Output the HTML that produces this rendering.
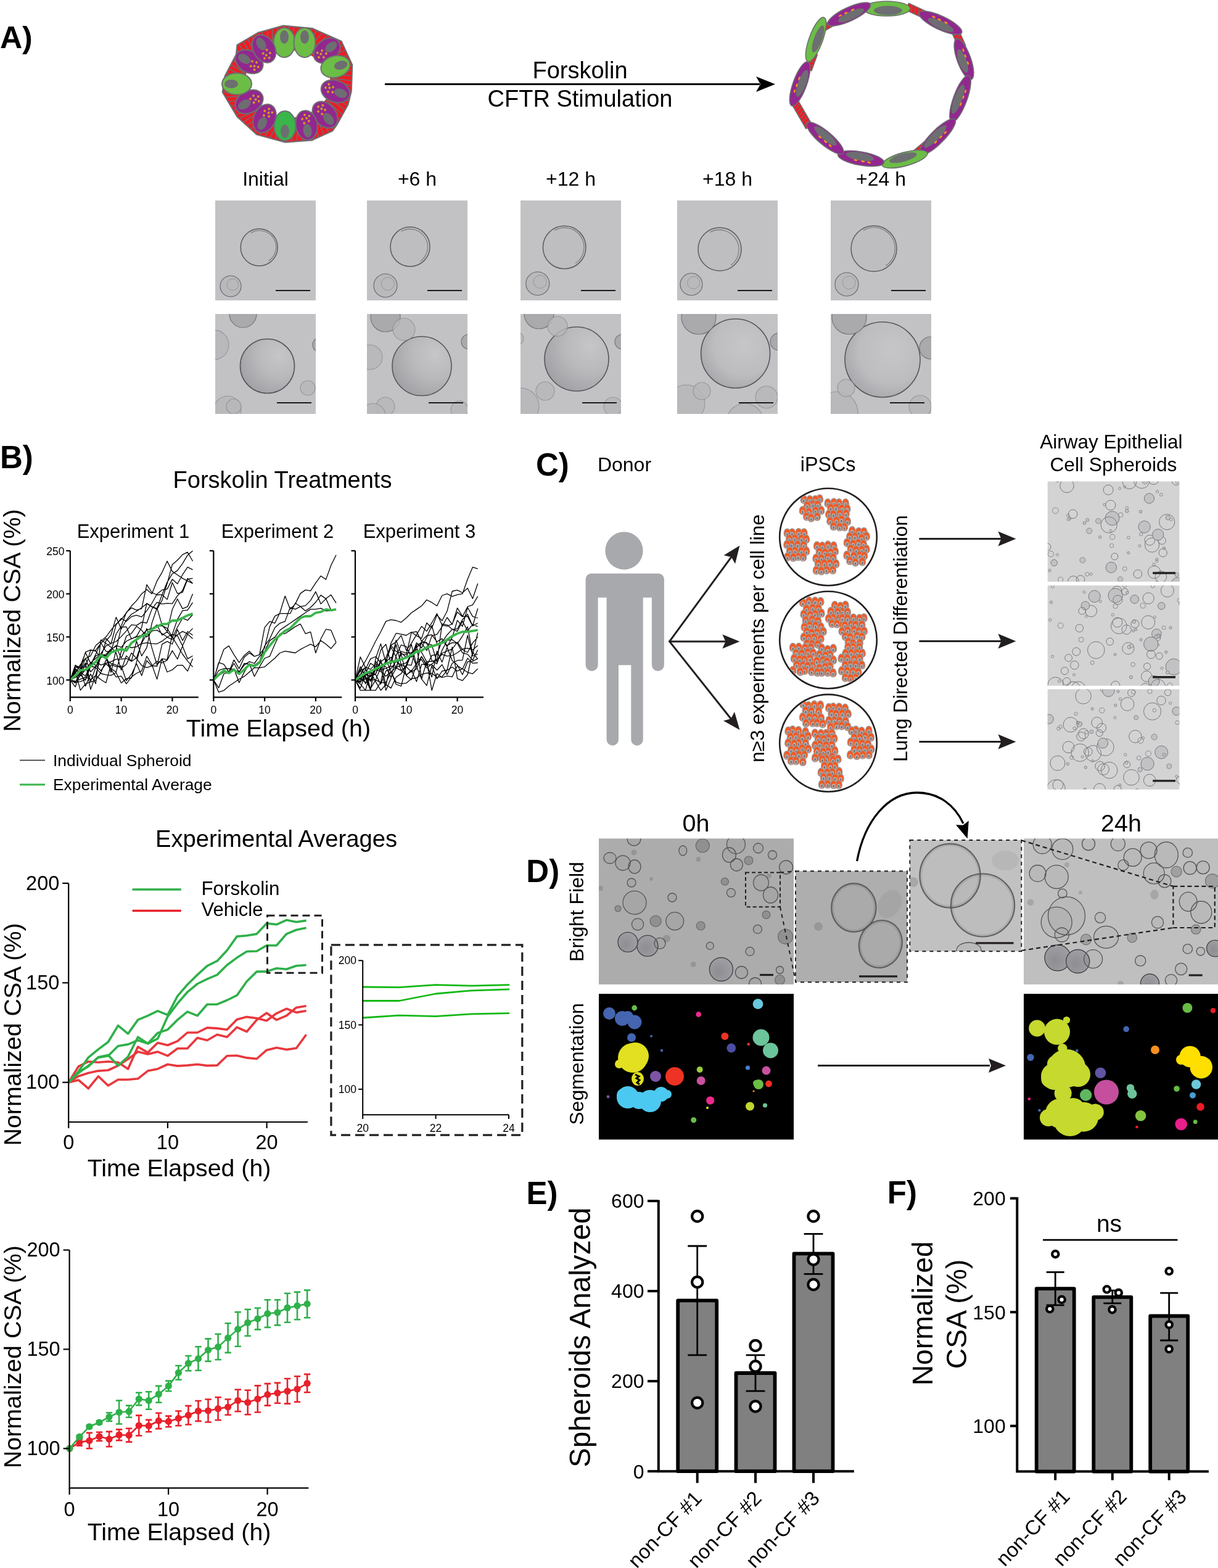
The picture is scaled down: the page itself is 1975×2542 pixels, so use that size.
<!DOCTYPE html>
<html><head><meta charset="utf-8"><title>Figure</title>
<style>html,body{margin:0;padding:0;background:#fff;} svg{display:block;} text{font-family:'Liberation Sans',Arial,sans-serif;}</style>
</head><body>
<svg width="1975" height="2542" viewBox="0 0 1975 2542">
<rect width="1975" height="2542" fill="#fff"/>
<defs><radialGradient id="gbig" cx="0.62" cy="0.38" r="0.78"><stop offset="0" stop-color="#c6c6c9"/><stop offset="0.55" stop-color="#bdbdc0"/><stop offset="0.85" stop-color="#a9a9ad"/><stop offset="1" stop-color="#9a9a9e"/></radialGradient><radialGradient id="gbig2" cx="0.72" cy="0.3" r="1.0"><stop offset="0" stop-color="#c6c6c9"/><stop offset="0.4" stop-color="#b9b9bc"/><stop offset="0.75" stop-color="#a4a4a8"/><stop offset="1" stop-color="#96969a"/></radialGradient><radialGradient id="gdark" cx="0.4" cy="0.6" r="0.7"><stop offset="0" stop-color="#8e8e92"/><stop offset="1" stop-color="#a2a2a6"/></radialGradient></defs><text x="0" y="77.5" font-size="50" text-anchor="start" font-weight="bold" fill="#000" >A)</text><text x="430.5" y="300.5" font-size="32" text-anchor="middle" fill="#000" >Initial</text><text x="676.5" y="300.5" font-size="32" text-anchor="middle" fill="#000" >+6 h</text><text x="925.5" y="300.5" font-size="32" text-anchor="middle" fill="#000" >+12 h</text><text x="1179.5" y="300.5" font-size="32" text-anchor="middle" fill="#000" >+18 h</text><text x="1428.5" y="300.5" font-size="32" text-anchor="middle" fill="#000" >+24 h</text><clipPath id="ca0"><rect x="349" y="325" width="163" height="162"/></clipPath><rect x="349" y="325" width="163" height="162" fill="#c2c2c5"/><g clip-path="url(#ca0)"><circle cx="420.2" cy="401" r="30" fill="#bebec1" stroke="#4a4a4e" stroke-width="1.5" stroke-opacity="0.85"/><path d="M406.8,377.8 A26.8,26.8 0 0 1 435.6,423" fill="none" stroke="#55555a" stroke-width="1.1" stroke-opacity="0.7"/><circle cx="374" cy="464" r="17" fill="#b9b9bc" stroke="#66666a" stroke-width="1.1"/><circle cx="377.4" cy="461.4" r="9.4" fill="none" stroke="#7a7a7e" stroke-width="0.9" stroke-opacity="0.6"/></g><line x1="447" y1="471" x2="503" y2="471" stroke="#1a1a1a" stroke-width="2.2" /><clipPath id="cb0"><rect x="349" y="509" width="163" height="162"/></clipPath><rect x="349" y="509" width="163" height="162" fill="#c2c2c5"/><g clip-path="url(#cb0)"><circle cx="433.5" cy="593.5" r="44" fill="url(#gbig2)" stroke="#56565a" stroke-width="1.6"/><circle cx="394" cy="509" r="22" fill="#aaaaad" stroke="#78787c" stroke-width="1.2"/><circle cx="347" cy="559" r="24" fill="#b8b8bb" stroke="#8a8a8e" stroke-width="1.1" opacity="0.8"/><circle cx="519" cy="559" r="12" fill="#aaaaad" stroke="#78787c" stroke-width="1.2"/><circle cx="369" cy="664" r="22" fill="#b8b8bb" stroke="#8a8a8e" stroke-width="1.1" opacity="0.8"/><circle cx="379" cy="659" r="12" fill="#b8b8bb" stroke="#8a8a8e" stroke-width="1.1" opacity="0.8"/><circle cx="499" cy="629" r="12" fill="#b8b8bb" stroke="#8a8a8e" stroke-width="1.1" opacity="0.8"/></g><line x1="449" y1="653" x2="505" y2="653" stroke="#1a1a1a" stroke-width="2.2" /><clipPath id="ca1"><rect x="595" y="325" width="163" height="162"/></clipPath><rect x="595" y="325" width="163" height="162" fill="#c2c2c5"/><g clip-path="url(#ca1)"><circle cx="665" cy="400" r="32" fill="#bebec1" stroke="#4a4a4e" stroke-width="1.5" stroke-opacity="0.85"/><path d="M650.6,375.1 A28.8,28.8 0 0 1 681.5,423.6" fill="none" stroke="#55555a" stroke-width="1.1" stroke-opacity="0.7"/><circle cx="625" cy="463" r="19" fill="#b9b9bc" stroke="#66666a" stroke-width="1.1"/><circle cx="628.8" cy="460.1" r="10.5" fill="none" stroke="#7a7a7e" stroke-width="0.9" stroke-opacity="0.6"/></g><line x1="693" y1="471" x2="749" y2="471" stroke="#1a1a1a" stroke-width="2.2" /><clipPath id="cb1"><rect x="595" y="509" width="163" height="162"/></clipPath><rect x="595" y="509" width="163" height="162" fill="#c2c2c5"/><g clip-path="url(#cb1)"><circle cx="684" cy="593.5" r="48" fill="url(#gbig2)" stroke="#56565a" stroke-width="1.6"/><circle cx="625" cy="514" r="24" fill="#aaaaad" stroke="#78787c" stroke-width="1.2"/><circle cx="655" cy="534" r="18" fill="#b8b8bb" stroke="#8a8a8e" stroke-width="1.1" opacity="0.8"/><circle cx="600" cy="579" r="20" fill="#b8b8bb" stroke="#8a8a8e" stroke-width="1.1" opacity="0.8"/><circle cx="760" cy="554" r="12" fill="#aaaaad" stroke="#78787c" stroke-width="1.2"/><circle cx="625" cy="659" r="15" fill="#b8b8bb" stroke="#8a8a8e" stroke-width="1.1" opacity="0.8"/><circle cx="745" cy="664" r="14" fill="#b8b8bb" stroke="#8a8a8e" stroke-width="1.1" opacity="0.8"/><circle cx="605" cy="674" r="20" fill="#b8b8bb" stroke="#8a8a8e" stroke-width="1.1" opacity="0.8"/></g><line x1="695" y1="653" x2="751" y2="653" stroke="#1a1a1a" stroke-width="2.2" /><clipPath id="ca2"><rect x="844" y="325" width="163" height="162"/></clipPath><rect x="844" y="325" width="163" height="162" fill="#c2c2c5"/><g clip-path="url(#ca2)"><circle cx="915.2" cy="401" r="34.8" fill="#bebec1" stroke="#4a4a4e" stroke-width="1.5" stroke-opacity="0.85"/><path d="M899.4,373.6 A31.6,31.6 0 0 1 933.3,426.9" fill="none" stroke="#55555a" stroke-width="1.1" stroke-opacity="0.7"/><circle cx="871.8" cy="459.8" r="19" fill="#b9b9bc" stroke="#66666a" stroke-width="1.1"/><circle cx="875.6" cy="456.9" r="10.5" fill="none" stroke="#7a7a7e" stroke-width="0.9" stroke-opacity="0.6"/></g><line x1="942" y1="471" x2="998" y2="471" stroke="#1a1a1a" stroke-width="2.2" /><clipPath id="cb2"><rect x="844" y="509" width="163" height="162"/></clipPath><rect x="844" y="509" width="163" height="162" fill="#c2c2c5"/><g clip-path="url(#cb2)"><circle cx="935" cy="582" r="52" fill="url(#gbig2)" stroke="#56565a" stroke-width="1.6"/><circle cx="874" cy="509" r="24" fill="#aaaaad" stroke="#78787c" stroke-width="1.2"/><circle cx="904" cy="529" r="16" fill="#b8b8bb" stroke="#8a8a8e" stroke-width="1.1" opacity="0.8"/><circle cx="839" cy="549" r="10" fill="#b8b8bb" stroke="#8a8a8e" stroke-width="1.1" opacity="0.8"/><circle cx="1009" cy="554" r="12" fill="#aaaaad" stroke="#78787c" stroke-width="1.2"/><circle cx="884" cy="634" r="15" fill="#b8b8bb" stroke="#8a8a8e" stroke-width="1.1" opacity="0.8"/><circle cx="844" cy="659" r="30" fill="#b8b8bb" stroke="#8a8a8e" stroke-width="1.1" opacity="0.8"/><circle cx="994" cy="659" r="15" fill="#b8b8bb" stroke="#8a8a8e" stroke-width="1.1" opacity="0.8"/></g><line x1="944" y1="653" x2="1000" y2="653" stroke="#1a1a1a" stroke-width="2.2" /><clipPath id="ca3"><rect x="1098" y="325" width="163" height="162"/></clipPath><rect x="1098" y="325" width="163" height="162" fill="#c2c2c5"/><g clip-path="url(#ca3)"><circle cx="1167" cy="404" r="35" fill="#bebec1" stroke="#4a4a4e" stroke-width="1.5" stroke-opacity="0.85"/><path d="M1151.1,376.5 A31.8,31.8 0 0 1 1185.2,430" fill="none" stroke="#55555a" stroke-width="1.1" stroke-opacity="0.7"/><circle cx="1121" cy="461" r="18" fill="#b9b9bc" stroke="#66666a" stroke-width="1.1"/><circle cx="1124.6" cy="458.3" r="9.9" fill="none" stroke="#7a7a7e" stroke-width="0.9" stroke-opacity="0.6"/></g><line x1="1196" y1="471" x2="1252" y2="471" stroke="#1a1a1a" stroke-width="2.2" /><clipPath id="cb3"><rect x="1098" y="509" width="163" height="162"/></clipPath><rect x="1098" y="509" width="163" height="162" fill="#c2c2c5"/><g clip-path="url(#cb3)"><circle cx="1192.6" cy="573" r="56" fill="url(#gbig)" stroke="#56565a" stroke-width="1.6"/><circle cx="1133" cy="514" r="28" fill="#aaaaad" stroke="#78787c" stroke-width="1.2"/><circle cx="1263" cy="554" r="14" fill="#aaaaad" stroke="#78787c" stroke-width="1.2"/><circle cx="1113" cy="654" r="30" fill="#b8b8bb" stroke="#8a8a8e" stroke-width="1.1" opacity="0.8"/><circle cx="1138" cy="634" r="14" fill="#b8b8bb" stroke="#8a8a8e" stroke-width="1.1" opacity="0.8"/><circle cx="1243" cy="644" r="18" fill="#b8b8bb" stroke="#8a8a8e" stroke-width="1.1" opacity="0.8"/><circle cx="1208" cy="684" r="30" fill="#b8b8bb" stroke="#8a8a8e" stroke-width="1.1" opacity="0.8"/></g><line x1="1198" y1="653" x2="1254" y2="653" stroke="#1a1a1a" stroke-width="2.2" /><clipPath id="ca4"><rect x="1347" y="325" width="163" height="162"/></clipPath><rect x="1347" y="325" width="163" height="162" fill="#c2c2c5"/><g clip-path="url(#ca4)"><circle cx="1417" cy="403" r="37" fill="#bebec1" stroke="#4a4a4e" stroke-width="1.5" stroke-opacity="0.85"/><path d="M1400.1,373.7 A33.8,33.8 0 0 1 1436.4,430.7" fill="none" stroke="#55555a" stroke-width="1.1" stroke-opacity="0.7"/><circle cx="1373" cy="461" r="19" fill="#b9b9bc" stroke="#66666a" stroke-width="1.1"/><circle cx="1376.8" cy="458.1" r="10.5" fill="none" stroke="#7a7a7e" stroke-width="0.9" stroke-opacity="0.6"/></g><line x1="1445" y1="471" x2="1501" y2="471" stroke="#1a1a1a" stroke-width="2.2" /><clipPath id="cb4"><rect x="1347" y="509" width="163" height="162"/></clipPath><rect x="1347" y="509" width="163" height="162" fill="#c2c2c5"/><g clip-path="url(#cb4)"><circle cx="1431" cy="583" r="61" fill="url(#gbig)" stroke="#56565a" stroke-width="1.6"/><circle cx="1377" cy="514" r="28" fill="#aaaaad" stroke="#78787c" stroke-width="1.2"/><circle cx="1509" cy="564" r="18" fill="#aaaaad" stroke="#78787c" stroke-width="1.2"/><circle cx="1357" cy="669" r="34" fill="#b8b8bb" stroke="#8a8a8e" stroke-width="1.1" opacity="0.8"/><circle cx="1372" cy="629" r="14" fill="#b8b8bb" stroke="#8a8a8e" stroke-width="1.1" opacity="0.8"/><circle cx="1492" cy="659" r="18" fill="#b8b8bb" stroke="#8a8a8e" stroke-width="1.1" opacity="0.8"/></g><line x1="1443" y1="653" x2="1499" y2="653" stroke="#1a1a1a" stroke-width="2.2" /><line x1="624" y1="136.5" x2="1232" y2="136.5" stroke="#000" stroke-width="3" /><polygon points="1257,136.5 1226,124 1233,136.5 1226,149" fill="#000"/><text x="940.5" y="127" font-size="38" text-anchor="middle" fill="#000" >Forskolin</text><text x="940.5" y="172.5" font-size="38" text-anchor="middle" fill="#000" >CFTR Stimulation</text><clipPath id="cyl"><polygon points="459.5,41.5 507,46.1 553.7,66.8 571.3,105.1 569.8,148 564.5,169.4 546.8,201.6 539.2,212.3 505.5,227.6 462.6,230.7 416.6,218.4 384.4,189.3 360.7,149.5 364.5,123.5 382.9,88.2 384.4,72.9 418.1,53"/></clipPath><polygon points="459.5,41.5 507,46.1 553.7,66.8 571.3,105.1 569.8,148 564.5,169.4 546.8,201.6 539.2,212.3 505.5,227.6 462.6,230.7 416.6,218.4 384.4,189.3 360.7,149.5 364.5,123.5 382.9,88.2 384.4,72.9 418.1,53" fill="#ed1c24" stroke="#6d6e71" stroke-width="2" stroke-linejoin="round"/><path d="M521,136L592.1,165M520.8,139.9L588.9,175.1M520.2,143.8L584.8,184.8M519.1,147.6L579.7,194.2M517.7,151.4L573.8,203.1M515.8,155L567,211.5M513.6,158.5L559.5,219.4M511.1,161.8L551.3,226.6M508.1,164.9L542.4,233.1M504.9,167.8L533,238.9M501.4,170.5L523,243.9M497.5,172.9L512.6,248M493.5,175L501.8,251.4M489.2,176.8L490.8,253.8M484.8,178.3L479.6,255.3M480.2,179.5L468.3,256M475.6,180.3L456.9,255.7M470.8,180.8L445.7,254.5M466,181L434.6,252.4M461.2,180.8L423.7,249.5M456.4,180.3L413.1,245.6M451.8,179.5L403,241M447.2,178.3L393.3,235.5M442.8,176.8L384.2,229.3M438.5,175L375.7,222.3M434.5,172.9L367.9,214.7M430.6,170.5L360.8,206.5M427.1,167.8L354.6,197.8M423.9,164.9L349.2,188.6M420.9,161.8L344.6,179M418.4,158.5L341,169.1M416.2,155L338.4,158.9M414.3,151.4L336.7,148.5M412.9,147.6L336,138.1M411.8,143.8L336.3,127.6M411.2,139.9L337.6,117.2M411,136L339.9,107M411.2,132.1L343.1,96.9M411.8,128.2L347.2,87.2M412.9,124.4L352.3,77.8M414.3,120.6L358.2,68.9M416.2,117L365,60.5M418.4,113.5L372.5,52.6M420.9,110.2L380.7,45.4M423.9,107.1L389.6,38.9M427.1,104.2L399,33.1M430.6,101.5L409,28.1M434.5,99.1L419.4,24M438.5,97L430.2,20.6M442.8,95.2L441.2,18.2M447.2,93.7L452.4,16.7M451.8,92.5L463.7,16M456.4,91.7L475.1,16.3M461.2,91.2L486.3,17.5M466,91L497.4,19.6M470.8,91.2L508.3,22.5M475.6,91.7L518.9,26.4M480.2,92.5L529,31M484.8,93.7L538.7,36.5M489.2,95.2L547.8,42.7M493.5,97L556.3,49.7M497.5,99.1L564.1,57.3M501.4,101.5L571.2,65.5M504.9,104.2L577.4,74.2M508.1,107.1L582.8,83.4M511.1,110.2L587.4,93M513.6,113.5L591,102.9M515.8,117L593.6,113.1M517.7,120.6L595.3,123.5M519.1,124.4L596,133.9M520.2,128.2L595.7,144.4M520.8,132.1L594.4,154.8" stroke="#6d6e71" stroke-width="1.5" clip-path="url(#cyl)"/><ellipse cx="466" cy="136" rx="70" ry="55" fill="#fff"/><g transform="translate(461,69) rotate(0)"><ellipse rx="17.5" ry="24" fill="#6cbd45" stroke="#6d6e71" stroke-width="2"/><ellipse cx="0" cy="-9" rx="7" ry="11" fill="#6d6e71"/></g><g transform="translate(494,69) rotate(0)"><ellipse rx="17.5" ry="24" fill="#6cbd45" stroke="#6d6e71" stroke-width="2"/><ellipse cx="0" cy="-9" rx="7" ry="11" fill="#6d6e71"/></g><g transform="translate(530,82) rotate(50)"><ellipse rx="17.5" ry="24" fill="#92278f" stroke="#6d6e71" stroke-width="2"/><ellipse cx="0" cy="-9" rx="7" ry="11" fill="#6d6e71"/><circle cx="-5" cy="6" r="2" fill="#f7941d" stroke="#6d6e71" stroke-width="0.6"/><circle cx="3" cy="4" r="2" fill="#f7941d" stroke="#6d6e71" stroke-width="0.6"/><circle cx="-2" cy="11" r="2" fill="#f7941d" stroke="#6d6e71" stroke-width="0.6"/><circle cx="5" cy="11" r="2" fill="#f7941d" stroke="#6d6e71" stroke-width="0.6"/><circle cx="0" cy="17" r="2" fill="#f7941d" stroke="#6d6e71" stroke-width="0.6"/><circle cx="-7" cy="14" r="2" fill="#f7941d" stroke="#6d6e71" stroke-width="0.6"/></g><g transform="translate(544,108) rotate(75)"><ellipse rx="17.5" ry="24" fill="#6cbd45" stroke="#6d6e71" stroke-width="2"/><ellipse cx="0" cy="-9" rx="7" ry="11" fill="#6d6e71"/></g><g transform="translate(544,148) rotate(110)"><ellipse rx="17.5" ry="24" fill="#92278f" stroke="#6d6e71" stroke-width="2"/><ellipse cx="0" cy="-9" rx="7" ry="11" fill="#6d6e71"/><circle cx="-5" cy="6" r="2" fill="#f7941d" stroke="#6d6e71" stroke-width="0.6"/><circle cx="3" cy="4" r="2" fill="#f7941d" stroke="#6d6e71" stroke-width="0.6"/><circle cx="-2" cy="11" r="2" fill="#f7941d" stroke="#6d6e71" stroke-width="0.6"/><circle cx="5" cy="11" r="2" fill="#f7941d" stroke="#6d6e71" stroke-width="0.6"/><circle cx="0" cy="17" r="2" fill="#f7941d" stroke="#6d6e71" stroke-width="0.6"/><circle cx="-7" cy="14" r="2" fill="#f7941d" stroke="#6d6e71" stroke-width="0.6"/></g><g transform="translate(527,186) rotate(140)"><ellipse rx="17.5" ry="24" fill="#92278f" stroke="#6d6e71" stroke-width="2"/><ellipse cx="0" cy="-9" rx="7" ry="11" fill="#6d6e71"/><circle cx="-5" cy="6" r="2" fill="#f7941d" stroke="#6d6e71" stroke-width="0.6"/><circle cx="3" cy="4" r="2" fill="#f7941d" stroke="#6d6e71" stroke-width="0.6"/><circle cx="-2" cy="11" r="2" fill="#f7941d" stroke="#6d6e71" stroke-width="0.6"/><circle cx="5" cy="11" r="2" fill="#f7941d" stroke="#6d6e71" stroke-width="0.6"/><circle cx="0" cy="17" r="2" fill="#f7941d" stroke="#6d6e71" stroke-width="0.6"/><circle cx="-7" cy="14" r="2" fill="#f7941d" stroke="#6d6e71" stroke-width="0.6"/></g><g transform="translate(497,203) rotate(170)"><ellipse rx="17.5" ry="24" fill="#92278f" stroke="#6d6e71" stroke-width="2"/><ellipse cx="0" cy="-9" rx="7" ry="11" fill="#6d6e71"/><circle cx="-5" cy="6" r="2" fill="#f7941d" stroke="#6d6e71" stroke-width="0.6"/><circle cx="3" cy="4" r="2" fill="#f7941d" stroke="#6d6e71" stroke-width="0.6"/><circle cx="-2" cy="11" r="2" fill="#f7941d" stroke="#6d6e71" stroke-width="0.6"/><circle cx="5" cy="11" r="2" fill="#f7941d" stroke="#6d6e71" stroke-width="0.6"/><circle cx="0" cy="17" r="2" fill="#f7941d" stroke="#6d6e71" stroke-width="0.6"/><circle cx="-7" cy="14" r="2" fill="#f7941d" stroke="#6d6e71" stroke-width="0.6"/></g><g transform="translate(462,204) rotate(180)"><ellipse rx="17.5" ry="24" fill="#39b54a" stroke="#6d6e71" stroke-width="2"/><ellipse cx="0" cy="-9" rx="7" ry="11" fill="#6d6e71"/></g><g transform="translate(429,192) rotate(205)"><ellipse rx="17.5" ry="24" fill="#92278f" stroke="#6d6e71" stroke-width="2"/><ellipse cx="0" cy="-9" rx="7" ry="11" fill="#6d6e71"/><circle cx="-5" cy="6" r="2" fill="#f7941d" stroke="#6d6e71" stroke-width="0.6"/><circle cx="3" cy="4" r="2" fill="#f7941d" stroke="#6d6e71" stroke-width="0.6"/><circle cx="-2" cy="11" r="2" fill="#f7941d" stroke="#6d6e71" stroke-width="0.6"/><circle cx="5" cy="11" r="2" fill="#f7941d" stroke="#6d6e71" stroke-width="0.6"/><circle cx="0" cy="17" r="2" fill="#f7941d" stroke="#6d6e71" stroke-width="0.6"/><circle cx="-7" cy="14" r="2" fill="#f7941d" stroke="#6d6e71" stroke-width="0.6"/></g><g transform="translate(404,165) rotate(240)"><ellipse rx="17.5" ry="24" fill="#92278f" stroke="#6d6e71" stroke-width="2"/><ellipse cx="0" cy="-9" rx="7" ry="11" fill="#6d6e71"/><circle cx="-5" cy="6" r="2" fill="#f7941d" stroke="#6d6e71" stroke-width="0.6"/><circle cx="3" cy="4" r="2" fill="#f7941d" stroke="#6d6e71" stroke-width="0.6"/><circle cx="-2" cy="11" r="2" fill="#f7941d" stroke="#6d6e71" stroke-width="0.6"/><circle cx="5" cy="11" r="2" fill="#f7941d" stroke="#6d6e71" stroke-width="0.6"/><circle cx="0" cy="17" r="2" fill="#f7941d" stroke="#6d6e71" stroke-width="0.6"/><circle cx="-7" cy="14" r="2" fill="#f7941d" stroke="#6d6e71" stroke-width="0.6"/></g><g transform="translate(384,136) rotate(270)"><ellipse rx="17.5" ry="24" fill="#6cbd45" stroke="#6d6e71" stroke-width="2"/><ellipse cx="0" cy="-9" rx="7" ry="11" fill="#6d6e71"/></g><g transform="translate(404,100) rotate(300)"><ellipse rx="17.5" ry="24" fill="#92278f" stroke="#6d6e71" stroke-width="2"/><ellipse cx="0" cy="-9" rx="7" ry="11" fill="#6d6e71"/><circle cx="-5" cy="6" r="2" fill="#f7941d" stroke="#6d6e71" stroke-width="0.6"/><circle cx="3" cy="4" r="2" fill="#f7941d" stroke="#6d6e71" stroke-width="0.6"/><circle cx="-2" cy="11" r="2" fill="#f7941d" stroke="#6d6e71" stroke-width="0.6"/><circle cx="5" cy="11" r="2" fill="#f7941d" stroke="#6d6e71" stroke-width="0.6"/><circle cx="0" cy="17" r="2" fill="#f7941d" stroke="#6d6e71" stroke-width="0.6"/><circle cx="-7" cy="14" r="2" fill="#f7941d" stroke="#6d6e71" stroke-width="0.6"/></g><g transform="translate(428,79) rotate(330)"><ellipse rx="17.5" ry="24" fill="#92278f" stroke="#6d6e71" stroke-width="2"/><ellipse cx="0" cy="-9" rx="7" ry="11" fill="#6d6e71"/><circle cx="-5" cy="6" r="2" fill="#f7941d" stroke="#6d6e71" stroke-width="0.6"/><circle cx="3" cy="4" r="2" fill="#f7941d" stroke="#6d6e71" stroke-width="0.6"/><circle cx="-2" cy="11" r="2" fill="#f7941d" stroke="#6d6e71" stroke-width="0.6"/><circle cx="5" cy="11" r="2" fill="#f7941d" stroke="#6d6e71" stroke-width="0.6"/><circle cx="0" cy="17" r="2" fill="#f7941d" stroke="#6d6e71" stroke-width="0.6"/><circle cx="-7" cy="14" r="2" fill="#f7941d" stroke="#6d6e71" stroke-width="0.6"/></g><g transform="translate(1491,20) rotate(25)"><rect x="-22" y="-6" width="44" height="12" fill="#ed1c24" stroke="#6d6e71" stroke-width="1.5"/><line x1="-16" y1="-6" x2="-12" y2="6" stroke="#6d6e71" stroke-width="1.2"/><line x1="-10" y1="-6" x2="-6" y2="6" stroke="#6d6e71" stroke-width="1.2"/><line x1="-4" y1="-6" x2="0" y2="6" stroke="#6d6e71" stroke-width="1.2"/><line x1="2" y1="-6" x2="6" y2="6" stroke="#6d6e71" stroke-width="1.2"/><line x1="8" y1="-6" x2="12" y2="6" stroke="#6d6e71" stroke-width="1.2"/><line x1="14" y1="-6" x2="18" y2="6" stroke="#6d6e71" stroke-width="1.2"/></g><g transform="translate(1554,62) rotate(66)"><rect x="-16" y="-6" width="32" height="12" fill="#ed1c24" stroke="#6d6e71" stroke-width="1.5"/><line x1="-10" y1="-6" x2="-6" y2="6" stroke="#6d6e71" stroke-width="1.2"/><line x1="-4" y1="-6" x2="0" y2="6" stroke="#6d6e71" stroke-width="1.2"/><line x1="2" y1="-6" x2="6" y2="6" stroke="#6d6e71" stroke-width="1.2"/><line x1="8" y1="-6" x2="12" y2="6" stroke="#6d6e71" stroke-width="1.2"/></g><g transform="translate(1300,185) rotate(240)"><rect x="-24" y="-6" width="48" height="12" fill="#ed1c24" stroke="#6d6e71" stroke-width="1.5"/><line x1="-18" y1="-6" x2="-14" y2="6" stroke="#6d6e71" stroke-width="1.2"/><line x1="-12" y1="-6" x2="-8" y2="6" stroke="#6d6e71" stroke-width="1.2"/><line x1="-6" y1="-6" x2="-2" y2="6" stroke="#6d6e71" stroke-width="1.2"/><line x1="0" y1="-6" x2="4" y2="6" stroke="#6d6e71" stroke-width="1.2"/><line x1="6" y1="-6" x2="10" y2="6" stroke="#6d6e71" stroke-width="1.2"/><line x1="12" y1="-6" x2="16" y2="6" stroke="#6d6e71" stroke-width="1.2"/><line x1="18" y1="-6" x2="22" y2="6" stroke="#6d6e71" stroke-width="1.2"/></g><g transform="translate(1498,238) rotate(140)"><rect x="-22" y="-6" width="44" height="12" fill="#ed1c24" stroke="#6d6e71" stroke-width="1.5"/><line x1="-16" y1="-6" x2="-12" y2="6" stroke="#6d6e71" stroke-width="1.2"/><line x1="-10" y1="-6" x2="-6" y2="6" stroke="#6d6e71" stroke-width="1.2"/><line x1="-4" y1="-6" x2="0" y2="6" stroke="#6d6e71" stroke-width="1.2"/><line x1="2" y1="-6" x2="6" y2="6" stroke="#6d6e71" stroke-width="1.2"/><line x1="8" y1="-6" x2="12" y2="6" stroke="#6d6e71" stroke-width="1.2"/><line x1="14" y1="-6" x2="18" y2="6" stroke="#6d6e71" stroke-width="1.2"/></g><g transform="translate(1345,40) rotate(330)"><rect x="-16" y="-5" width="32" height="10" fill="#ed1c24" stroke="#6d6e71" stroke-width="1.5"/><line x1="-10" y1="-5" x2="-6" y2="5" stroke="#6d6e71" stroke-width="1.2"/><line x1="-4" y1="-5" x2="0" y2="5" stroke="#6d6e71" stroke-width="1.2"/><line x1="2" y1="-5" x2="6" y2="5" stroke="#6d6e71" stroke-width="1.2"/><line x1="8" y1="-5" x2="12" y2="5" stroke="#6d6e71" stroke-width="1.2"/></g><g transform="translate(1316,100) rotate(290)"><rect x="-14" y="-5" width="28" height="10" fill="#ed1c24" stroke="#6d6e71" stroke-width="1.5"/><line x1="-8" y1="-5" x2="-4" y2="5" stroke="#6d6e71" stroke-width="1.2"/><line x1="-2" y1="-5" x2="2" y2="5" stroke="#6d6e71" stroke-width="1.2"/><line x1="4" y1="-5" x2="8" y2="5" stroke="#6d6e71" stroke-width="1.2"/></g><g transform="translate(1437.8,14) rotate(0)"><ellipse rx="38" ry="12" fill="#6cbd45" stroke="#6d6e71" stroke-width="1.6"/><ellipse cx="2" cy="3" rx="23" ry="7.5" fill="#6d6e71"/></g><g transform="translate(1525,37) rotate(25)"><ellipse rx="38" ry="11" fill="#92278f" stroke="#6d6e71" stroke-width="1.6"/><ellipse cx="2" cy="3" rx="23" ry="6.5" fill="#6d6e71"/><ellipse cx="-14" cy="-4" rx="3" ry="1.4" fill="#f7941d"/><ellipse cx="-4" cy="-4" rx="3" ry="1.4" fill="#f7941d"/><ellipse cx="8" cy="-4" rx="3" ry="1.4" fill="#f7941d"/></g><g transform="translate(1563,96) rotate(70)"><ellipse rx="35" ry="11" fill="#92278f" stroke="#6d6e71" stroke-width="1.6"/><ellipse cx="2" cy="3" rx="20" ry="6.5" fill="#6d6e71"/><ellipse cx="-14" cy="-4" rx="3" ry="1.4" fill="#f7941d"/><ellipse cx="-4" cy="-4" rx="3" ry="1.4" fill="#f7941d"/><ellipse cx="8" cy="-4" rx="3" ry="1.4" fill="#f7941d"/></g><g transform="translate(1557,160) rotate(110)"><ellipse rx="40" ry="11" fill="#92278f" stroke="#6d6e71" stroke-width="1.6"/><ellipse cx="2" cy="3" rx="25" ry="6.5" fill="#6d6e71"/><ellipse cx="-14" cy="-4" rx="3" ry="1.4" fill="#f7941d"/><ellipse cx="-4" cy="-4" rx="3" ry="1.4" fill="#f7941d"/><ellipse cx="8" cy="-4" rx="3" ry="1.4" fill="#f7941d"/></g><g transform="translate(1520,222) rotate(135)"><ellipse rx="40" ry="11" fill="#92278f" stroke="#6d6e71" stroke-width="1.6"/><ellipse cx="2" cy="3" rx="25" ry="6.5" fill="#6d6e71"/><ellipse cx="-14" cy="-4" rx="3" ry="1.4" fill="#f7941d"/><ellipse cx="-4" cy="-4" rx="3" ry="1.4" fill="#f7941d"/><ellipse cx="8" cy="-4" rx="3" ry="1.4" fill="#f7941d"/></g><g transform="translate(1467,258) rotate(165)"><ellipse rx="38" ry="11" fill="#6cbd45" stroke="#6d6e71" stroke-width="1.6"/><ellipse cx="2" cy="3" rx="23" ry="6.5" fill="#6d6e71"/></g><g transform="translate(1396,257) rotate(190)"><ellipse rx="38" ry="11" fill="#92278f" stroke="#6d6e71" stroke-width="1.6"/><ellipse cx="2" cy="3" rx="23" ry="6.5" fill="#6d6e71"/><ellipse cx="-14" cy="-4" rx="3" ry="1.4" fill="#f7941d"/><ellipse cx="-4" cy="-4" rx="3" ry="1.4" fill="#f7941d"/><ellipse cx="8" cy="-4" rx="3" ry="1.4" fill="#f7941d"/></g><g transform="translate(1338,224) rotate(220)"><ellipse rx="38" ry="11" fill="#92278f" stroke="#6d6e71" stroke-width="1.6"/><ellipse cx="2" cy="3" rx="23" ry="6.5" fill="#6d6e71"/><ellipse cx="-14" cy="-4" rx="3" ry="1.4" fill="#f7941d"/><ellipse cx="-4" cy="-4" rx="3" ry="1.4" fill="#f7941d"/><ellipse cx="8" cy="-4" rx="3" ry="1.4" fill="#f7941d"/></g><g transform="translate(1297,136) rotate(290)"><ellipse rx="38" ry="11" fill="#92278f" stroke="#6d6e71" stroke-width="1.6"/><ellipse cx="2" cy="3" rx="23" ry="6.5" fill="#6d6e71"/><ellipse cx="-14" cy="-4" rx="3" ry="1.4" fill="#f7941d"/><ellipse cx="-4" cy="-4" rx="3" ry="1.4" fill="#f7941d"/><ellipse cx="8" cy="-4" rx="3" ry="1.4" fill="#f7941d"/></g><g transform="translate(1323,64) rotate(290)"><ellipse rx="38" ry="11" fill="#6cbd45" stroke="#6d6e71" stroke-width="1.6"/><ellipse cx="2" cy="3" rx="23" ry="6.5" fill="#6d6e71"/></g><g transform="translate(1377,23) rotate(335)"><ellipse rx="38" ry="11" fill="#92278f" stroke="#6d6e71" stroke-width="1.6"/><ellipse cx="2" cy="3" rx="23" ry="6.5" fill="#6d6e71"/><ellipse cx="-14" cy="-4" rx="3" ry="1.4" fill="#f7941d"/><ellipse cx="-4" cy="-4" rx="3" ry="1.4" fill="#f7941d"/><ellipse cx="8" cy="-4" rx="3" ry="1.4" fill="#f7941d"/></g><text x="0" y="759" font-size="51" text-anchor="start" font-weight="bold" fill="#000" >B)</text><text x="458" y="790.8" font-size="38" text-anchor="middle" fill="#000" >Forskolin Treatments</text><path d="M113.8,1102.4L122.1,1084.4L130.4,1089.9L138.6,1095.9L146.9,1078.3L155.2,1060.7L163.5,1042L171.8,1056L180,1056.2L188.3,1028L196.6,1015L204.9,992.8L213.2,985.4L221.4,989.2L229.7,986.6L238,947.8L246.3,960.5L254.6,964.5L262.8,963.9L271.1,943.8L279.4,930.2L287.7,924.9L296,913.7L304.2,899.9L312.5,892.9M113.8,1102.4L122.1,1091.2L130.4,1077.3L138.6,1067.5L146.9,1063.3L155.2,1046.5L163.5,1039.5L171.8,1032.6L180,1021.4L188.3,1011.6L196.6,1004.6L204.9,993.5L213.2,982.3L221.4,973.9L229.7,962.7L238,955.7L246.3,962.7L254.6,941.8L262.8,927.8L271.1,909.7L279.4,926.4L287.7,932L296,937.6L304.2,941.8L312.5,946M113.8,1102.4L122.1,1078.2L130.4,1083.8L138.6,1057.1L146.9,1053.6L155.2,1055.5L163.5,1066.7L171.8,1039L180,1029.3L188.3,1000.6L196.6,1019.8L204.9,1005.3L213.2,995.8L221.4,991L229.7,985.3L238,978.4L246.3,984L254.6,987.7L262.8,973.1L271.1,945.8L279.4,915.2L287.7,908.2L296,899.1L304.2,895.2L312.5,909.7M113.8,1102.4L122.1,1078.6L130.4,1082.5L138.6,1081.7L146.9,1054.4L155.2,1054.1L163.5,1043L171.8,1035L180,1044L188.3,1012.8L196.6,1002.5L204.9,1007.4L213.2,999.6L221.4,997.3L229.7,1000.2L238,990.1L246.3,978L254.6,963L262.8,956.4L271.1,954.9L279.4,939.1L287.7,946.5L296,931.7L304.2,919.3L312.5,923.6M113.8,1102.4L122.1,1096.1L130.4,1086.9L138.6,1067.1L146.9,1089.3L155.2,1080.3L163.5,1064.9L171.8,1065.7L180,1090L188.3,1053.4L196.6,1016.9L204.9,1016.2L213.2,1035.9L221.4,1031.6L229.7,1017.1L238,978L246.3,983.3L254.6,986.5L262.8,964L271.1,971.9L279.4,944.5L287.7,962.2L296,960.3L304.2,938.9L312.5,937.6M113.8,1102.4L122.1,1105.6L130.4,1095L138.6,1086L146.9,1077.9L155.2,1063.4L163.5,1059.9L171.8,1047.2L180,1043L188.3,1040L196.6,1031.9L204.9,1022.9L213.2,1012.9L221.4,1013.9L229.7,1008.6L238,1010L246.3,987.4L254.6,976.4L262.8,979.2L271.1,978.1L279.4,978.7L287.7,965.9L296,957.3L304.2,937.6L312.5,946M113.8,1102.4L122.1,1079.7L130.4,1086.8L138.6,1112.4L146.9,1092.6L155.2,1108.4L163.5,1037.3L171.8,1043L180,1049.3L188.3,1058.5L196.6,1086.3L204.9,1063.1L213.2,1071.6L221.4,1039.5L229.7,1063.4L238,1049.9L246.3,1010.1L254.6,985.7L262.8,1013.4L271.1,1023.6L279.4,987.8L287.7,971L296,986.9L304.2,983.4L312.5,962.7M113.8,1102.4L122.1,1082.5L130.4,1079.8L138.6,1058.1L146.9,1075.1L155.2,1078.4L163.5,1087.3L171.8,1076L180,1084L188.3,1089.4L196.6,1056L204.9,1031.2L213.2,1026.8L221.4,1015.3L229.7,1021.7L238,1032.9L246.3,1022.8L254.6,1021.6L262.8,1027L271.1,1032.8L279.4,1028.4L287.7,1004.1L296,989.8L304.2,989.2L312.5,976.7M113.8,1102.4L122.1,1086.1L130.4,1093.8L138.6,1102.7L146.9,1080.5L155.2,1081.5L163.5,1062.6L171.8,1060.9L180,1052L188.3,1048L196.6,1067L204.9,1048L213.2,1050L221.4,1048.6L229.7,1042.8L238,1028.3L246.3,1019.6L254.6,1012.9L262.8,1029.7L271.1,1024.2L279.4,1034.2L287.7,1016.7L296,1002.2L304.2,1005.7L312.5,996.3M113.8,1102.4L122.1,1105.8L130.4,1104.8L138.6,1101.6L146.9,1077.4L155.2,1072.2L163.5,1078.1L171.8,1075.1L180,1072.7L188.3,1068.8L196.6,1068.6L204.9,1067.3L213.2,1072.2L221.4,1066.5L229.7,1043.3L238,1042.1L246.3,1043.3L254.6,1043.8L262.8,1039.4L271.1,1033.1L279.4,1036.9L287.7,1029L296,1023.6L304.2,1027.6L312.5,1018.6M113.8,1102.4L122.1,1088.4L130.4,1119.2L138.6,1108.7L146.9,1105.7L155.2,1102.9L163.5,1090.4L171.8,1070.2L180,1075.4L188.3,1078.2L196.6,1083.5L204.9,1076.9L213.2,1058.5L221.4,1067.6L229.7,1078.9L238,1082.3L246.3,1079.3L254.6,1080L262.8,1044.4L271.1,1039.9L279.4,1044.1L287.7,1020.5L296,1038.6L304.2,1023.7L312.5,1029.8M113.8,1102.4L122.1,1113.6L130.4,1091.6L138.6,1077.3L146.9,1104.8L155.2,1082.2L163.5,1092L171.8,1093.9L180,1094.9L188.3,1090.5L196.6,1107.2L204.9,1100.2L213.2,1099L221.4,1073.4L229.7,1040.9L238,1018.9L246.3,1050.4L254.6,1078L262.8,1067.8L271.1,1069.3L279.4,1028.3L287.7,1030.8L296,1046.9L304.2,1027.9L312.5,1035.4M113.8,1102.4L122.1,1104.5L130.4,1101.1L138.6,1097.7L146.9,1101.5L155.2,1095.2L163.5,1101.8L171.8,1107L180,1077.6L188.3,1080.7L196.6,1079.7L204.9,1103.7L213.2,1093.2L221.4,1076L229.7,1095.3L238,1071L246.3,1079.9L254.6,1072L262.8,1074.7L271.1,1070.1L279.4,1054.9L287.7,1068.5L296,1047.4L304.2,1068.1L312.5,1063.3M113.8,1102.4L122.1,1107.3L130.4,1087.4L138.6,1074.7L146.9,1117.7L155.2,1094.9L163.5,1063.7L171.8,1063L180,1085.1L188.3,1097.7L196.6,1096.2L204.9,1108.6L213.2,1097.6L221.4,1091.5L229.7,1087.7L238,1063.9L246.3,1077.5L254.6,1101.1L262.8,1067.8L271.1,1089.5L279.4,1085.9L287.7,1078.6L296,1078.4L304.2,1088L312.5,1067.5M113.8,1102.4L122.1,1098.2L130.4,1091.2L138.6,1085.6L146.9,1074.5L155.2,1067.5L163.5,1060.5L171.8,1063.3L180,1053.5L188.3,1046.5L196.6,1049.3L204.9,1039.5L213.2,1035.4L221.4,1032.6L229.7,1029.8L238,1021.4L246.3,1018.6L254.6,1015.8L262.8,1014.4L271.1,1018.6L279.4,1032.6L287.7,1046.5L296,1060.5L304.2,1071.7L312.5,1081.4" fill="none" stroke="#000" stroke-width="1.3" stroke-linejoin="round"/><polyline points="113.8,1102.4 122.1,1095.4 130.4,1087 138.6,1085.6 146.9,1080.1 155.2,1073.1 163.5,1061.9 171.8,1067.5 180,1057.7 188.3,1054.9 196.6,1052.1 204.9,1054.9 213.2,1042.3 221.4,1036.8 229.7,1031.2 238,1028.4 246.3,1020 254.6,1015.8 262.8,1011.6 271.1,1011.6 279.4,1006 287.7,1006 296,1001.8 304.2,997.6 312.5,994.9" fill="none" stroke="#39b54a" stroke-width="3.8" stroke-linejoin="round" /><path d="M113.8,892.8V1130.3H321.8" fill="none" stroke="#000" stroke-width="2.2"/><line x1="107.3" y1="1102.4" x2="113.8" y2="1102.4" stroke="#000" stroke-width="2.2" /><line x1="107.3" y1="1032.6" x2="113.8" y2="1032.6" stroke="#000" stroke-width="2.2" /><line x1="107.3" y1="962.7" x2="113.8" y2="962.7" stroke="#000" stroke-width="2.2" /><line x1="107.3" y1="892.9" x2="113.8" y2="892.9" stroke="#000" stroke-width="2.2" /><line x1="113.8" y1="1130.3" x2="113.8" y2="1137" stroke="#000" stroke-width="2.2" /><text x="113.8" y="1156.6" font-size="17.5" text-anchor="middle" fill="#000" >0</text><line x1="196.6" y1="1130.3" x2="196.6" y2="1137" stroke="#000" stroke-width="2.2" /><text x="196.6" y="1156.6" font-size="17.5" text-anchor="middle" fill="#000" >10</text><line x1="279.4" y1="1130.3" x2="279.4" y2="1137" stroke="#000" stroke-width="2.2" /><text x="279.4" y="1156.6" font-size="17.5" text-anchor="middle" fill="#000" >20</text><text x="104.4" y="1109.7" font-size="17.5" text-anchor="end" fill="#000" >100</text><text x="104.4" y="1039.9" font-size="17.5" text-anchor="end" fill="#000" >150</text><text x="104.4" y="970" font-size="17.5" text-anchor="end" fill="#000" >200</text><text x="104.4" y="900.2" font-size="17.5" text-anchor="end" fill="#000" >250</text><text x="216" y="872" font-size="31" text-anchor="middle" fill="#000" >Experiment 1</text><path d="M346.3,1102.4L354.6,1075.5L362.9,1052.8L371.1,1047.1L379.4,1061.3L387.7,1074.1L396,1062.7L404.3,1055.6L412.5,1064.1L420.8,1061.3L429.1,1017.4L437.4,1007.4L445.7,1010.3L453.9,993.3L462.2,966.3L470.5,987.6L478.8,979.1L487.1,962.1L495.3,956.4L503.6,957.8L511.9,945.1L520.2,933.7L528.5,939.4L536.7,916.7L545,899.7M346.3,1102.4L354.6,1074.1L362.9,1076.9L371.1,1089.6L379.4,1069.8L387.7,1084L396,1065.5L404.3,1058.5L412.5,1064.1L420.8,1061.3L429.1,1050L437.4,1015.9L445.7,998.9L453.9,994.7L462.2,994.7L470.5,994.7L478.8,977.7L487.1,983.3L495.3,981.9L503.6,973.4L511.9,959.2L520.2,979.1L528.5,970.6L536.7,964.3L545,977.7M346.3,1102.4L354.6,1086.8L362.9,1084L371.1,1084L379.4,1085.4L387.7,1089.6L396,1075.5L404.3,1076.9L412.5,1078.3L420.8,1072.6L429.1,1047.1L437.4,1035.8L445.7,1017.4L453.9,1010.3L462.2,1007.4L470.5,984.8L478.8,987.6L487.1,983.3L495.3,990.4L503.6,984.8L511.9,976.3L520.2,964.9L528.5,970.6L536.7,989L545,987.6M346.3,1102.4L354.6,1115.2L362.9,1092.5L371.1,1089.6L379.4,1084L387.7,1106.7L396,1089.6L404.3,1075.5L412.5,1096.7L420.8,1081.1L429.1,1067L437.4,1064.1L445.7,1044.3L453.9,1027.3L462.2,1027.3L470.5,1021.6L478.8,1015.9L487.1,1011.7L495.3,1027.3L503.6,1024.4L511.9,1058.5L520.2,1035.8L528.5,1020.2L536.7,1021.6L545,1041.5M346.3,1102.4L354.6,1122.2L362.9,1119.4L371.1,1112.3L379.4,1106.7L387.7,1101L396,1096.7L404.3,1089.6L412.5,1082.6L420.8,1082.6L429.1,1081.1L437.4,1074.1L445.7,1067L453.9,1058.5L462.2,1055.6L470.5,1057L478.8,1058.5L487.1,1052.8L495.3,1048.5L503.6,1044.3L511.9,1048.5L520.2,1038.6L528.5,1044.3L536.7,1051.4L545,1041.5M346.3,1102.4L354.6,1095.3L362.9,1089.6L371.1,1089.6L379.4,1075.5L387.7,1089.6L396,1078.3L404.3,1072.6L412.5,1075.5L420.8,1064.1L429.1,1055.6L437.4,1038.6L445.7,1032.9L453.9,1021.6L462.2,1015.9L470.5,1010.3L478.8,1004.6L487.1,998.9L495.3,993.3L503.6,987.6L511.9,987.6L520.2,986.2L528.5,990.4L536.7,990.4L545,987.6" fill="none" stroke="#000" stroke-width="1.3" stroke-linejoin="round"/><polyline points="346.3,1102.4 354.6,1094 362.9,1087 371.1,1091.2 379.4,1085.6 387.7,1092.6 396,1085.6 404.3,1077.3 412.5,1080.1 420.8,1074.5 429.1,1057.7 437.4,1046.5 445.7,1036.8 453.9,1029.8 462.2,1022.8 470.5,1018.6 478.8,1010.2 487.1,1001.8 495.3,999 503.6,999 511.9,993.5 520.2,992.1 528.5,987.9 536.7,989.3 545,987.9" fill="none" stroke="#39b54a" stroke-width="3.8" stroke-linejoin="round" /><path d="M346.3,892.8V1130.3H554.3" fill="none" stroke="#000" stroke-width="2.2"/><line x1="339.8" y1="1102.4" x2="346.3" y2="1102.4" stroke="#000" stroke-width="2.2" /><line x1="339.8" y1="1032.6" x2="346.3" y2="1032.6" stroke="#000" stroke-width="2.2" /><line x1="339.8" y1="962.7" x2="346.3" y2="962.7" stroke="#000" stroke-width="2.2" /><line x1="339.8" y1="892.9" x2="346.3" y2="892.9" stroke="#000" stroke-width="2.2" /><line x1="346.3" y1="1130.3" x2="346.3" y2="1137" stroke="#000" stroke-width="2.2" /><text x="346.3" y="1156.6" font-size="17.5" text-anchor="middle" fill="#000" >0</text><line x1="429.1" y1="1130.3" x2="429.1" y2="1137" stroke="#000" stroke-width="2.2" /><text x="429.1" y="1156.6" font-size="17.5" text-anchor="middle" fill="#000" >10</text><line x1="511.9" y1="1130.3" x2="511.9" y2="1137" stroke="#000" stroke-width="2.2" /><text x="511.9" y="1156.6" font-size="17.5" text-anchor="middle" fill="#000" >20</text><text x="450" y="872" font-size="31" text-anchor="middle" fill="#000" >Experiment 2</text><path d="M576,1102.4L584.3,1085.6L592.6,1071.7L600.8,1056.3L609.1,1039.5L617.4,1024.2L625.7,1007.4L634,1004.6L642.2,1006L650.5,1008.8L658.8,1001.8L667.1,993.5L675.4,987.9L683.6,982.3L691.9,972.5L700.2,976.7L708.5,982.3L716.8,965.5L725,962.7L733.3,966.9L741.6,964.1L749.9,962.7L758.2,939L766.4,919.4L774.7,922.2M576,1102.4L584.3,1093.2L592.6,1081.5L600.8,1085.1L609.1,1076.1L617.4,1084.3L625.7,1074.6L634,1042.6L642.2,1026.7L650.5,1028.1L658.8,1030L667.1,1024.7L675.4,1030.7L683.6,1034.9L691.9,1009.8L700.2,1018.2L708.5,997.1L716.8,1006.2L725,990.8L733.3,958.5L741.6,956.7L749.9,961L758.2,953.5L766.4,970.5L774.7,946M576,1102.4L584.3,1106.7L592.6,1093.9L600.8,1096.4L609.1,1092.9L617.4,1073L625.7,1066.2L634,1045.9L642.2,1040.9L650.5,1030.1L658.8,1054.6L667.1,1042.8L675.4,1028.9L683.6,1015.4L691.9,1023.4L700.2,1009.7L708.5,994.7L716.8,1013.3L725,1015.1L733.3,1011.5L741.6,992.2L749.9,999.9L758.2,983.5L766.4,980.6L774.7,966.9M576,1102.4L584.3,1087.5L592.6,1082.4L600.8,1104.9L609.1,1085.6L617.4,1088.6L625.7,1096.2L634,1089L642.2,1082.6L650.5,1056.1L658.8,1058.6L667.1,1058.1L675.4,1049.5L683.6,1042.9L691.9,1054.7L700.2,1030.9L708.5,1028.4L716.8,1015.9L725,1001L733.3,1012.3L741.6,985.7L749.9,999.1L758.2,999.4L766.4,1014.9L774.7,986.5M576,1102.4L584.3,1104L592.6,1085.3L600.8,1068.1L609.1,1064.5L617.4,1074.5L625.7,1081.2L634,1098.4L642.2,1083.7L650.5,1059.9L658.8,1061.3L667.1,1025.3L675.4,1024L683.6,1039.4L691.9,1030.5L700.2,1029.2L708.5,1040.4L716.8,1035.4L725,1048.5L733.3,1033.2L741.6,1005.7L749.9,1015.5L758.2,984.8L766.4,999.4L774.7,1001.8M576,1102.4L584.3,1115.9L592.6,1092.2L600.8,1075.4L609.1,1080.2L617.4,1081.3L625.7,1119.2L634,1099.7L642.2,1063.1L650.5,1045.7L658.8,1048.2L667.1,1065.6L675.4,1042L683.6,1050.5L691.9,1033.2L700.2,1014.1L708.5,1043.9L716.8,1041.3L725,1029.2L733.3,1020.4L741.6,1019.5L749.9,1004.5L758.2,995.8L766.4,1014.8L774.7,1010.2M576,1102.4L584.3,1108.9L592.6,1119.2L600.8,1119.2L609.1,1067.5L617.4,1043.6L625.7,1074.4L634,1046.4L642.2,1056.2L650.5,1058.6L658.8,1065.8L667.1,1044.8L675.4,1078.2L683.6,1039L691.9,1043.1L700.2,1045.7L708.5,1073.3L716.8,1011.7L725,1013.1L733.3,1020.3L741.6,1023.4L749.9,1007L758.2,1022.8L766.4,1012.2L774.7,1015.8M576,1102.4L584.3,1081.1L592.6,1099.1L600.8,1102.6L609.1,1083.5L617.4,1053.8L625.7,1044.5L634,1076.3L642.2,1044.8L650.5,1077.3L658.8,1074.6L667.1,1060.3L675.4,1046.3L683.6,1041.6L691.9,1041.4L700.2,1070.9L708.5,1076.1L716.8,1054.4L725,1038L733.3,1037L741.6,1043.3L749.9,1031.3L758.2,1016L766.4,1061.1L774.7,1025.6M576,1102.4L584.3,1104.7L592.6,1100.2L600.8,1097.2L609.1,1082L617.4,1086.4L625.7,1083.5L634,1079.9L642.2,1082.6L650.5,1087.1L658.8,1093.9L667.1,1088.4L675.4,1075.5L683.6,1069.1L691.9,1082.9L700.2,1076.4L708.5,1069.7L716.8,1060.8L725,1063.7L733.3,1062.7L741.6,1058.2L749.9,1052.1L758.2,1050.8L766.4,1053.7L774.7,1046.5M576,1102.4L584.3,1101.2L592.6,1100.1L600.8,1119.1L609.1,1072.1L617.4,1083.5L625.7,1072.1L634,1049.2L642.2,1064.7L650.5,1086.8L658.8,1080.9L667.1,1089.5L675.4,1084.4L683.6,1064.4L691.9,1079.2L700.2,1062.6L708.5,1061L716.8,1038.8L725,1046.1L733.3,1041.8L741.6,1042.7L749.9,1058.4L758.2,1060.7L766.4,1070.4L774.7,1053.5M576,1102.4L584.3,1080.7L592.6,1096.1L600.8,1116.1L609.1,1102.3L617.4,1082.4L625.7,1073L634,1065.4L642.2,1082.2L650.5,1078.7L658.8,1095.3L667.1,1102L675.4,1077.5L683.6,1064.2L691.9,1077.7L700.2,1077.5L708.5,1086.5L716.8,1077.5L725,1093.6L733.3,1075.2L741.6,1070.7L749.9,1070.2L758.2,1030L766.4,1063.5L774.7,1060.5M576,1102.4L584.3,1085.9L592.6,1108.6L600.8,1094.3L609.1,1092.6L617.4,1069.3L625.7,1111.7L634,1072.8L642.2,1037.8L650.5,1060.1L658.8,1095.1L667.1,1086.2L675.4,1105.1L683.6,1077.2L691.9,1077L700.2,1097.7L708.5,1055.6L716.8,1073.4L725,1049.5L733.3,1071L741.6,1078.2L749.9,1093.7L758.2,1072.7L766.4,1072.1L774.7,1067.5M576,1102.4L584.3,1065L592.6,1082.1L600.8,1119.2L609.1,1119.2L617.4,1106L625.7,1068.4L634,1089L642.2,1109.2L650.5,1112.5L658.8,1078.5L667.1,1057.9L675.4,1080.5L683.6,1100.9L691.9,1111.4L700.2,1079.5L708.5,1100.5L716.8,1088L725,1086.2L733.3,1049L741.6,1100.2L749.9,1103.3L758.2,1093.5L766.4,1056.7L774.7,1068.9M576,1102.4L584.3,1119.2L592.6,1119.2L600.8,1089.1L609.1,1105.1L617.4,1119.2L625.7,1109.7L634,1115.6L642.2,1097.8L650.5,1092.1L658.8,1077.6L667.1,1078.3L675.4,1045.4L683.6,1101.2L691.9,1072.4L700.2,1119.2L708.5,1091.8L716.8,1098.5L725,1095.8L733.3,1097.3L741.6,1079.2L749.9,1084.7L758.2,1067.1L766.4,1075.2L774.7,1074.5M576,1102.4L584.3,1100.1L592.6,1106L600.8,1101.6L609.1,1102.3L617.4,1106.4L625.7,1106.8L634,1089.1L642.2,1105.8L650.5,1108.6L658.8,1107.4L667.1,1100.3L675.4,1099L683.6,1093.3L691.9,1091.1L700.2,1091.5L708.5,1097.9L716.8,1097.1L725,1086.5L733.3,1081.5L741.6,1087.9L749.9,1084.2L758.2,1090L766.4,1092.3L774.7,1084.2M576,1102.4L584.3,1099.6L592.6,1094.4L600.8,1089.9L609.1,1093.6L617.4,1109.1L625.7,1087.9L634,1083.8L642.2,1072.3L650.5,1078.3L658.8,1080.9L667.1,1060L675.4,1052.8L683.6,1057.5L691.9,1072.9L700.2,1072L708.5,1070.1L716.8,1059L725,1055.3L733.3,1052.2L741.6,1041.2L749.9,1053.2L758.2,1057.7L766.4,1042.4L774.7,1032.6" fill="none" stroke="#000" stroke-width="1.3" stroke-linejoin="round"/><polyline points="576,1102.4 584.3,1096.8 592.6,1091.2 600.8,1088.4 609.1,1084.2 617.4,1080.1 625.7,1075.9 634,1073.1 642.2,1071.7 650.5,1068.9 658.8,1066.1 667.1,1061.9 675.4,1056.3 683.6,1054.9 691.9,1049.3 700.2,1047.9 708.5,1045.1 716.8,1042.3 725,1036.8 733.3,1031.2 741.6,1027 749.9,1024.2 758.2,1024.2 766.4,1022.8 774.7,1021.4" fill="none" stroke="#39b54a" stroke-width="3.8" stroke-linejoin="round" /><path d="M576,892.8V1130.3H784" fill="none" stroke="#000" stroke-width="2.2"/><line x1="569.5" y1="1102.4" x2="576" y2="1102.4" stroke="#000" stroke-width="2.2" /><line x1="569.5" y1="1032.6" x2="576" y2="1032.6" stroke="#000" stroke-width="2.2" /><line x1="569.5" y1="962.7" x2="576" y2="962.7" stroke="#000" stroke-width="2.2" /><line x1="569.5" y1="892.9" x2="576" y2="892.9" stroke="#000" stroke-width="2.2" /><line x1="576" y1="1130.3" x2="576" y2="1137" stroke="#000" stroke-width="2.2" /><text x="576" y="1156.6" font-size="17.5" text-anchor="middle" fill="#000" >0</text><line x1="658.8" y1="1130.3" x2="658.8" y2="1137" stroke="#000" stroke-width="2.2" /><text x="658.8" y="1156.6" font-size="17.5" text-anchor="middle" fill="#000" >10</text><line x1="741.6" y1="1130.3" x2="741.6" y2="1137" stroke="#000" stroke-width="2.2" /><text x="741.6" y="1156.6" font-size="17.5" text-anchor="middle" fill="#000" >20</text><text x="680" y="872" font-size="31" text-anchor="middle" fill="#000" >Experiment 3</text><text x="451.5" y="1194" font-size="39.5" text-anchor="middle" fill="#000" >Time Elapsed (h)</text><text transform="translate(33.3,1006) rotate(-90)" font-size="39.4" text-anchor="middle" >Normalized CSA (%)</text><line x1="32" y1="1232.5" x2="73" y2="1232.5" stroke="#231f20" stroke-width="1.6" /><text x="86" y="1241.5" font-size="26.4" text-anchor="start" fill="#000" >Individual Spheroid</text><line x1="32" y1="1272" x2="73" y2="1272" stroke="#39b54a" stroke-width="3" /><text x="86" y="1281" font-size="26.4" text-anchor="start" fill="#000" >Experimental Average</text><text x="448" y="1373" font-size="38.2" text-anchor="middle" fill="#000" >Experimental Averages</text><polyline points="111.2,1754.7 127.3,1728.9 143.3,1721 159.4,1722.3 175.4,1721 191.5,1722.3 207.6,1732.9 223.6,1697.1 239.7,1706.4 255.7,1690.5 271.8,1694.5 287.8,1687.8 303.9,1674 320,1674 336,1666.1 352.1,1667.1 368.1,1669.3 384.2,1652.8 400.2,1648.6 416.3,1650.7 432.3,1654.7 448.4,1642.8 464.5,1635.3 480.5,1641.4 496.6,1638.8" fill="none" stroke="#e8383d" stroke-width="3.6" stroke-linejoin="round" /><polyline points="111.2,1754.7 127.3,1744.8 143.3,1739.5 159.4,1736.1 175.4,1735 191.5,1727.6 207.6,1717 223.6,1705.1 239.7,1709 255.7,1705.1 271.8,1711.7 287.8,1699.8 303.9,1699.8 320,1682.5 336,1686.5 352.1,1677.2 368.1,1681.2 384.2,1665.3 400.2,1672.5 416.3,1653.4 432.3,1642.2 448.4,1653.4 464.5,1646.7 480.5,1633.5 496.6,1630.8" fill="none" stroke="#e8383d" stroke-width="3.6" stroke-linejoin="round" /><polyline points="111.2,1754.7 127.3,1750.9 143.3,1764.7 159.4,1744.8 175.4,1760 191.5,1750.2 207.6,1750.2 223.6,1748.8 239.7,1736.1 255.7,1732.9 271.8,1725.5 287.8,1728.1 303.9,1727.1 320,1725.5 336,1727.6 352.1,1727.1 368.1,1711.7 384.2,1711.2 400.2,1714.9 416.3,1716.5 432.3,1702.4 448.4,1698.4 464.5,1701.6 480.5,1699.2 496.6,1677.2" fill="none" stroke="#e8383d" stroke-width="3.6" stroke-linejoin="round" /><polyline points="111.2,1754.7 127.3,1736.9 143.3,1714.4 159.4,1701.1 175.4,1689.2 191.5,1662.6 207.6,1675.9 223.6,1653.4 239.7,1646.7 255.7,1638.8 271.8,1645.4 287.8,1614.9 303.9,1596.3 320,1580.4 336,1565.8 352.1,1557.9 368.1,1540.7 384.2,1518.1 400.2,1516.8 416.3,1514.1 432.3,1496.9 448.4,1498.8 464.5,1491.6 480.5,1494.8 496.6,1492.4" fill="none" stroke="#2fb04a" stroke-width="3.6" stroke-linejoin="round" /><polyline points="111.2,1754.7 127.3,1738.2 143.3,1728.9 159.4,1713.8 175.4,1710.4 191.5,1727.6 207.6,1713 223.6,1681.2 239.7,1691.8 255.7,1683.9 271.8,1648.1 287.8,1626.8 303.9,1608.3 320,1595 336,1587.1 352.1,1580.4 368.1,1564.5 384.2,1552.6 400.2,1542.5 416.3,1542 432.3,1532.7 448.4,1532.7 464.5,1514.1 480.5,1507.5 496.6,1504.3" fill="none" stroke="#2fb04a" stroke-width="3.6" stroke-linejoin="round" /><polyline points="111.2,1754.7 127.3,1739.5 143.3,1727.6 159.4,1714.4 175.4,1711.7 191.5,1695.8 207.6,1693.1 223.6,1686.5 239.7,1691.8 255.7,1674.6 271.8,1669.3 287.8,1653.4 303.9,1640.1 320,1646.7 336,1628.2 352.1,1628.2 368.1,1621.5 384.2,1613.6 400.2,1591 416.3,1575.1 432.3,1575.1 448.4,1569.8 464.5,1571.2 480.5,1565.8 496.6,1564.5" fill="none" stroke="#2fb04a" stroke-width="3.6" stroke-linejoin="round" /><path d="M111.2,1431.9V1819H498.9" fill="none" stroke="#000" stroke-width="2.2"/><line x1="101.2" y1="1754.7" x2="111.2" y2="1754.7" stroke="#000" stroke-width="2.2" /><text x="96.3" y="1765.4" font-size="32.5" text-anchor="end" fill="#000" >100</text><line x1="101.2" y1="1593.3" x2="111.2" y2="1593.3" stroke="#000" stroke-width="2.2" /><text x="96.3" y="1604" font-size="32.5" text-anchor="end" fill="#000" >150</text><line x1="101.2" y1="1431.9" x2="111.2" y2="1431.9" stroke="#000" stroke-width="2.2" /><text x="96.3" y="1442.6" font-size="32.5" text-anchor="end" fill="#000" >200</text><line x1="111.2" y1="1819" x2="111.2" y2="1829" stroke="#000" stroke-width="2.2" /><text x="111.2" y="1863.4" font-size="32.5" text-anchor="middle" fill="#000" >0</text><line x1="271.9" y1="1819" x2="271.9" y2="1829" stroke="#000" stroke-width="2.2" /><text x="271.9" y="1863.4" font-size="32.5" text-anchor="middle" fill="#000" >10</text><line x1="432.6" y1="1819" x2="432.6" y2="1829" stroke="#000" stroke-width="2.2" /><text x="432.6" y="1863.4" font-size="32.5" text-anchor="middle" fill="#000" >20</text><text x="290.5" y="1907.2" font-size="39.3" text-anchor="middle" fill="#000" >Time Elapsed (h)</text><text transform="translate(33.5,1677) rotate(-90)" font-size="39.4" text-anchor="middle" >Normalized CSA (%)</text><line x1="214.6" y1="1442" x2="293.7" y2="1442" stroke="#2fb04a" stroke-width="3.4" /><line x1="214.6" y1="1476.5" x2="293.7" y2="1476.5" stroke="#e8202a" stroke-width="3.4" /><text x="326.5" y="1451.3" font-size="31.3" text-anchor="start" fill="#000" >Forskolin</text><text x="326.5" y="1484.6" font-size="31" text-anchor="start" fill="#000" >Vehicle</text><rect x="433.5" y="1484.3" width="89" height="93" fill="none" stroke="#231f20" stroke-width="3" stroke-dasharray="12 7"/><rect x="536.9" y="1531.9" width="309.9" height="308.3" fill="none" stroke="#231f20" stroke-width="3.2" stroke-dasharray="15 8"/><polyline points="588.2,1600 647.4,1600.6 706.6,1596.6 765.8,1598.1 825,1596.6" fill="none" stroke="#13b813" stroke-width="2.8" stroke-linejoin="round" stroke-linecap="round"/><polyline points="588.2,1622.5 647.4,1622.5 706.6,1611 765.8,1605.8 825,1603.9" fill="none" stroke="#13b813" stroke-width="2.8" stroke-linejoin="round" stroke-linecap="round"/><polyline points="588.2,1650 647.4,1646.1 706.6,1647.7 765.8,1643.8 825,1642.7" fill="none" stroke="#13b813" stroke-width="2.8" stroke-linejoin="round" stroke-linecap="round"/><path d="M588.2,1557.1V1807.2H825" fill="none" stroke="#000" stroke-width="2"/><line x1="581.2" y1="1765.8" x2="588.2" y2="1765.8" stroke="#000" stroke-width="2" /><text x="578" y="1771.8" font-size="17.5" text-anchor="end" fill="#000" >100</text><line x1="581.2" y1="1661.5" x2="588.2" y2="1661.5" stroke="#000" stroke-width="2" /><text x="578" y="1667.5" font-size="17.5" text-anchor="end" fill="#000" >150</text><line x1="581.2" y1="1557.2" x2="588.2" y2="1557.2" stroke="#000" stroke-width="2" /><text x="578" y="1563.2" font-size="17.5" text-anchor="end" fill="#000" >200</text><line x1="588.2" y1="1807.2" x2="588.2" y2="1814" stroke="#000" stroke-width="2" /><text x="588.2" y="1834.5" font-size="17.5" text-anchor="middle" fill="#000" >20</text><line x1="706.6" y1="1807.2" x2="706.6" y2="1814" stroke="#000" stroke-width="2" /><text x="706.6" y="1834.5" font-size="17.5" text-anchor="middle" fill="#000" >22</text><line x1="825" y1="1807.2" x2="825" y2="1814" stroke="#000" stroke-width="2" /><text x="825" y="1834.5" font-size="17.5" text-anchor="middle" fill="#000" >24</text><polyline points="112.8,2348.3 128.9,2338.1 144.9,2335.6 161,2328.8 177,2333.1 193.1,2326.2 209.1,2326.7 225.2,2311 241.2,2311.5 257.3,2303.4 273.3,2304.4 289.4,2299.4 305.4,2294.3 321.5,2287.5 337.5,2287 353.6,2283.7 369.6,2281.1 385.7,2270.5 401.7,2273.5 417.8,2268 433.8,2260.9 449.9,2258.3 466,2255.3 482,2252 498.1,2242.6" fill="none" stroke="#e8202a" stroke-width="2.6" stroke-linejoin="round" /><path d="M128.9,2332.6V2343.7M123.7,2332.6h10.4M123.7,2343.7h10.4M144.9,2322.9V2348.3M139.7,2322.9h10.4M139.7,2348.3h10.4M161,2321.7V2335.9M155.8,2321.7h10.4M155.8,2335.9h10.4M177,2320.9V2345.2M171.8,2320.9h10.4M171.8,2345.2h10.4M193.1,2317.4V2335.1M187.9,2317.4h10.4M187.9,2335.1h10.4M209.1,2315.8V2337.6M203.9,2315.8h10.4M203.9,2337.6h10.4M225.2,2294.6V2327.5M220,2294.6h10.4M220,2327.5h10.4M241.2,2301.9V2321.2M236,2301.9h10.4M236,2321.2h10.4M257.3,2290.8V2316.1M252.1,2290.8h10.4M252.1,2316.1h10.4M273.3,2295.6V2313.3M268.1,2295.6h10.4M268.1,2313.3h10.4M289.4,2287.5V2311.3M284.2,2287.5h10.4M284.2,2311.3h10.4M305.4,2279.1V2309.5M300.2,2279.1h10.4M300.2,2309.5h10.4M321.5,2271V2303.9M316.3,2271h10.4M316.3,2303.9h10.4M337.5,2268.5V2305.5M332.3,2268.5h10.4M332.3,2305.5h10.4M353.6,2265.2V2302.2M348.4,2265.2h10.4M348.4,2302.2h10.4M369.6,2268.5V2293.8M364.4,2268.5h10.4M364.4,2293.8h10.4M385.7,2252.7V2288.2M380.5,2252.7h10.4M380.5,2288.2h10.4M401.7,2253.8V2293.3M396.5,2253.8h10.4M396.5,2293.3h10.4M417.8,2246.4V2289.5M412.6,2246.4h10.4M412.6,2289.5h10.4M433.8,2243.1V2278.6M428.6,2243.1h10.4M428.6,2278.6h10.4M449.9,2241.9V2274.8M444.7,2241.9h10.4M444.7,2274.8h10.4M466,2235V2275.6M460.8,2235h10.4M460.8,2275.6h10.4M482,2231.2V2272.8M476.8,2231.2h10.4M476.8,2272.8h10.4M498.1,2227.9V2257.3M492.9,2227.9h10.4M492.9,2257.3h10.4" stroke="#e8202a" stroke-width="2.6" fill="none"/><g fill="#e8202a"><circle cx="112.8" cy="2348.3" r="5.6"/><circle cx="128.9" cy="2338.1" r="5.6"/><circle cx="144.9" cy="2335.6" r="5.6"/><circle cx="161" cy="2328.8" r="5.6"/><circle cx="177" cy="2333.1" r="5.6"/><circle cx="193.1" cy="2326.2" r="5.6"/><circle cx="209.1" cy="2326.7" r="5.6"/><circle cx="225.2" cy="2311" r="5.6"/><circle cx="241.2" cy="2311.5" r="5.6"/><circle cx="257.3" cy="2303.4" r="5.6"/><circle cx="273.3" cy="2304.4" r="5.6"/><circle cx="289.4" cy="2299.4" r="5.6"/><circle cx="305.4" cy="2294.3" r="5.6"/><circle cx="321.5" cy="2287.5" r="5.6"/><circle cx="337.5" cy="2287" r="5.6"/><circle cx="353.6" cy="2283.7" r="5.6"/><circle cx="369.6" cy="2281.1" r="5.6"/><circle cx="385.7" cy="2270.5" r="5.6"/><circle cx="401.7" cy="2273.5" r="5.6"/><circle cx="417.8" cy="2268" r="5.6"/><circle cx="433.8" cy="2260.9" r="5.6"/><circle cx="449.9" cy="2258.3" r="5.6"/><circle cx="466" cy="2255.3" r="5.6"/><circle cx="482" cy="2252" r="5.6"/><circle cx="498.1" cy="2242.6" r="5.6"/></g><polyline points="112.8,2348.3 128.9,2329.3 144.9,2312.8 161,2306 177,2297.1 193.1,2289.5 209.1,2288.2 225.2,2268 241.2,2270.5 257.3,2260.3 273.3,2246.9 289.4,2225.4 305.4,2210.2 321.5,2202.6 337.5,2188.6 353.6,2183.6 369.6,2169.1 385.7,2154.9 401.7,2144.3 417.8,2138 433.8,2129.6 449.9,2127.8 466,2120.2 482,2116.9 498.1,2113.9" fill="none" stroke="#2fb04a" stroke-width="2.6" stroke-linejoin="round" /><path d="M128.9,2327.2V2331.3M123.7,2327.2h10.4M123.7,2331.3h10.4M144.9,2310.3V2315.3M139.7,2310.3h10.4M139.7,2315.3h10.4M161,2303.4V2308.5M155.8,2303.4h10.4M155.8,2308.5h10.4M177,2290.2V2303.9M171.8,2290.2h10.4M171.8,2303.9h10.4M193.1,2270.5V2308.5M187.9,2270.5h10.4M187.9,2308.5h10.4M209.1,2278.6V2297.8M203.9,2278.6h10.4M203.9,2297.8h10.4M225.2,2257.8V2278.1M220,2257.8h10.4M220,2278.1h10.4M241.2,2256.3V2284.7M236,2256.3h10.4M236,2284.7h10.4M257.3,2246.9V2273.8M252.1,2246.9h10.4M252.1,2273.8h10.4M273.3,2238.6V2255.3M268.1,2238.6h10.4M268.1,2255.3h10.4M289.4,2214V2236.8M284.2,2214h10.4M284.2,2236.8h10.4M305.4,2198V2222.3M300.2,2198h10.4M300.2,2222.3h10.4M321.5,2183.3V2221.8M316.3,2183.3h10.4M316.3,2221.8h10.4M337.5,2170.4V2206.9M332.3,2170.4h10.4M332.3,2206.9h10.4M353.6,2162.8V2204.3M348.4,2162.8h10.4M348.4,2204.3h10.4M369.6,2145.3V2192.9M364.4,2145.3h10.4M364.4,2192.9h10.4M385.7,2127.1V2182.8M380.5,2127.1h10.4M380.5,2182.8h10.4M401.7,2122.8V2165.8M396.5,2122.8h10.4M396.5,2165.8h10.4M417.8,2120.5V2155.4M412.6,2120.5h10.4M412.6,2155.4h10.4M433.8,2107.3V2151.9M428.6,2107.3h10.4M428.6,2151.9h10.4M449.9,2107.3V2148.4M444.7,2107.3h10.4M444.7,2148.4h10.4M466,2096.7V2143.8M460.8,2096.7h10.4M460.8,2143.8h10.4M482,2094.6V2139.2M476.8,2094.6h10.4M476.8,2139.2h10.4M498.1,2091.6V2136.2M492.9,2091.6h10.4M492.9,2136.2h10.4" stroke="#2fb04a" stroke-width="2.6" fill="none"/><g fill="#2fb04a"><circle cx="112.8" cy="2348.3" r="5.6"/><circle cx="128.9" cy="2329.3" r="5.6"/><circle cx="144.9" cy="2312.8" r="5.6"/><circle cx="161" cy="2306" r="5.6"/><circle cx="177" cy="2297.1" r="5.6"/><circle cx="193.1" cy="2289.5" r="5.6"/><circle cx="209.1" cy="2288.2" r="5.6"/><circle cx="225.2" cy="2268" r="5.6"/><circle cx="241.2" cy="2270.5" r="5.6"/><circle cx="257.3" cy="2260.3" r="5.6"/><circle cx="273.3" cy="2246.9" r="5.6"/><circle cx="289.4" cy="2225.4" r="5.6"/><circle cx="305.4" cy="2210.2" r="5.6"/><circle cx="321.5" cy="2202.6" r="5.6"/><circle cx="337.5" cy="2188.6" r="5.6"/><circle cx="353.6" cy="2183.6" r="5.6"/><circle cx="369.6" cy="2169.1" r="5.6"/><circle cx="385.7" cy="2154.9" r="5.6"/><circle cx="401.7" cy="2144.3" r="5.6"/><circle cx="417.8" cy="2138" r="5.6"/><circle cx="433.8" cy="2129.6" r="5.6"/><circle cx="449.9" cy="2127.8" r="5.6"/><circle cx="466" cy="2120.2" r="5.6"/><circle cx="482" cy="2116.9" r="5.6"/><circle cx="498.1" cy="2113.9" r="5.6"/></g><path d="M112.6,2026.5V2412.3H500.4" fill="none" stroke="#000" stroke-width="2.2"/><line x1="102.6" y1="2348.3" x2="112.6" y2="2348.3" stroke="#000" stroke-width="2.2" /><text x="97.7" y="2359" font-size="32.5" text-anchor="end" fill="#000" >100</text><line x1="102.6" y1="2187.4" x2="112.6" y2="2187.4" stroke="#000" stroke-width="2.2" /><text x="97.7" y="2198.1" font-size="32.5" text-anchor="end" fill="#000" >150</text><line x1="102.6" y1="2026.5" x2="112.6" y2="2026.5" stroke="#000" stroke-width="2.2" /><text x="97.7" y="2037.2" font-size="32.5" text-anchor="end" fill="#000" >200</text><line x1="112.6" y1="2412.3" x2="112.6" y2="2423" stroke="#000" stroke-width="2.2" /><text x="112.6" y="2458" font-size="32.5" text-anchor="middle" fill="#000" >0</text><line x1="273.1" y1="2412.3" x2="273.1" y2="2423" stroke="#000" stroke-width="2.2" /><text x="273.1" y="2458" font-size="32.5" text-anchor="middle" fill="#000" >10</text><line x1="433.6" y1="2412.3" x2="433.6" y2="2423" stroke="#000" stroke-width="2.2" /><text x="433.6" y="2458" font-size="32.5" text-anchor="middle" fill="#000" >20</text><text x="290.5" y="2496.5" font-size="39.3" text-anchor="middle" fill="#000" >Time Elapsed (h)</text><text transform="translate(33.5,2199.6) rotate(-90)" font-size="39.4" text-anchor="middle" >Normalized CSA (%)</text><text x="868.9" y="771.4" font-size="51" text-anchor="start" font-weight="bold" fill="#000" >C)</text><text x="968.9" y="764.3" font-size="32" text-anchor="start" fill="#000" >Donor</text><text x="1342.6" y="764.3" font-size="32.3" text-anchor="middle" fill="#000" >iPSCs</text><text x="1686.3" y="726.8" font-size="31.5" text-anchor="start" fill="#000" >Airway Epithelial</text><text x="1702.4" y="763.8" font-size="31.7" text-anchor="start" fill="#000" >Cell Spheroids</text><g fill="#a7a9ac"><circle cx="1012" cy="892.8" r="30.6"/><path d="M949.6,938.8 a9,9 0 0 1 9,-9 h109.3 a9,9 0 0 1 9,9 V1078 a10,10 0 0 1 -20,0 V968.7 h-14.2 V1199 a9.7,9.7 0 0 1 -19.4,0 V1078.3 h-20.3 V1199 a9.7,9.7 0 0 1 -19.4,0 V968.7 h-14 V1078 a10,10 0 0 1 -20,0 Z"/></g><line x1="1085.6" y1="1039.9" x2="1187.6" y2="900.6" stroke="#231f20" stroke-width="3" stroke-linecap="round"/><polygon points="1199.4,884.5 1192.1,913.9 1185.8,903.1 1173.6,900.3" fill="#231f20"/><line x1="1085.6" y1="1039.9" x2="1179.4" y2="1039.9" stroke="#231f20" stroke-width="3" stroke-linecap="round"/><polygon points="1199.4,1039.9 1171.4,1051.4 1176.4,1039.9 1171.4,1028.4" fill="#231f20"/><line x1="1085.6" y1="1039.9" x2="1187" y2="1167.5" stroke="#231f20" stroke-width="3" stroke-linecap="round"/><polygon points="1199.4,1183.2 1173,1168.4 1185.1,1165.2 1191,1154.1" fill="#231f20"/><text transform="translate(1238.9,1035) rotate(-90)" font-size="31.6" text-anchor="middle" >n≥3 experiments per cell line</text><text transform="translate(1471.3,1035) rotate(-90)" font-size="31.6" text-anchor="middle" >Lung Directed Differentiation</text><defs><g id="pc"><path d="M-5.3,1 C-5.3,-4 -3,-7 0,-7 C3,-7 5.3,-4 5.3,1 C5.3,4.5 3,6.6 0,6.6 C-3,6.6 -5.3,4.5 -5.3,1Z" fill="#f15a24" stroke="#9d9fa2" stroke-width="1.3"/><ellipse cx="0" cy="2.2" rx="2.7" ry="3.6" fill="#bcbec0"/><ellipse cx="0" cy="2.4" rx="1.6" ry="2.5" fill="#77787b"/></g></defs><circle cx="1343" cy="870.5" r="78.8" fill="#fff" stroke="#231f20" stroke-width="2.6"/><clipPath id="ic870"><circle cx="1343" cy="870.5" r="77"/></clipPath><g clip-path="url(#ic870)"><use href="#pc" x="1329.2" y="808.9"/><use href="#pc" x="1303.4" y="809.7"/><use href="#pc" x="1322.1" y="810.3"/><use href="#pc" x="1313.1" y="810.3"/><use href="#pc" x="1318" y="817.6"/><use href="#pc" x="1325.9" y="818"/><use href="#pc" x="1308.9" y="819.2"/><use href="#pc" x="1331.5" y="827.5"/><use href="#pc" x="1322.2" y="827.6"/><use href="#pc" x="1301.5" y="827.8"/><use href="#pc" x="1311.5" y="829.8"/><use href="#pc" x="1308" y="837.3"/><use href="#pc" x="1325.1" y="837.5"/><use href="#pc" x="1315.3" y="839.5"/><use href="#pc" x="1352.2" y="814.8"/><use href="#pc" x="1360.4" y="815.6"/><use href="#pc" x="1342.3" y="815.7"/><use href="#pc" x="1371.1" y="815.7"/><use href="#pc" x="1355.6" y="822.8"/><use href="#pc" x="1347.1" y="823.1"/><use href="#pc" x="1365.3" y="824.4"/><use href="#pc" x="1373.6" y="824.6"/><use href="#pc" x="1371.9" y="832.5"/><use href="#pc" x="1361.9" y="832.6"/><use href="#pc" x="1343.9" y="833.8"/><use href="#pc" x="1351.5" y="833.8"/><use href="#pc" x="1364.4" y="842.3"/><use href="#pc" x="1356.3" y="843.9"/><use href="#pc" x="1346.1" y="844.6"/><use href="#pc" x="1374.1" y="845.1"/><use href="#pc" x="1351.6" y="853.1"/><use href="#pc" x="1369.3" y="854.2"/><use href="#pc" x="1361.4" y="854.3"/><use href="#pc" x="1381.8" y="860.5"/><use href="#pc" x="1392.5" y="862.3"/><use href="#pc" x="1400.9" y="862.3"/><use href="#pc" x="1405" y="869.4"/><use href="#pc" x="1386.3" y="869.7"/><use href="#pc" x="1377.9" y="869.8"/><use href="#pc" x="1397.4" y="872.3"/><use href="#pc" x="1373.5" y="879.8"/><use href="#pc" x="1392.1" y="880.4"/><use href="#pc" x="1383.3" y="881.6"/><use href="#pc" x="1400.1" y="881.8"/><use href="#pc" x="1379.4" y="889.3"/><use href="#pc" x="1404.8" y="890.2"/><use href="#pc" x="1397.2" y="891.3"/><use href="#pc" x="1388.3" y="891.7"/><use href="#pc" x="1373.2" y="900.1"/><use href="#pc" x="1393.6" y="900.1"/><use href="#pc" x="1401.4" y="900.9"/><use href="#pc" x="1384.5" y="901.3"/><use href="#pc" x="1378.1" y="908.9"/><use href="#pc" x="1398.2" y="910.4"/><use href="#pc" x="1387.2" y="911.5"/><use href="#pc" x="1294.9" y="863.6"/><use href="#pc" x="1303.8" y="863.8"/><use href="#pc" x="1284.5" y="863.9"/><use href="#pc" x="1276.5" y="864.1"/><use href="#pc" x="1288.8" y="872.8"/><use href="#pc" x="1299.5" y="873.4"/><use href="#pc" x="1279.9" y="873.4"/><use href="#pc" x="1307.3" y="874.1"/><use href="#pc" x="1283.4" y="882.7"/><use href="#pc" x="1276.1" y="882.8"/><use href="#pc" x="1293.4" y="883.1"/><use href="#pc" x="1303.2" y="883.6"/><use href="#pc" x="1289" y="892.8"/><use href="#pc" x="1280.7" y="893.3"/><use href="#pc" x="1299.4" y="893.4"/><use href="#pc" x="1307.5" y="893.4"/><use href="#pc" x="1294.2" y="902.3"/><use href="#pc" x="1276.8" y="902.8"/><use href="#pc" x="1302.3" y="903.2"/><use href="#pc" x="1286.3" y="903.6"/><use href="#pc" x="1342.5" y="884"/><use href="#pc" x="1324.7" y="884.9"/><use href="#pc" x="1351.8" y="885.2"/><use href="#pc" x="1333.2" y="885.7"/><use href="#pc" x="1354.2" y="893.8"/><use href="#pc" x="1328.5" y="894.6"/><use href="#pc" x="1346.8" y="895.5"/><use href="#pc" x="1337.6" y="895.6"/><use href="#pc" x="1342.2" y="903.2"/><use href="#pc" x="1350.9" y="903.8"/><use href="#pc" x="1323.2" y="905.1"/><use href="#pc" x="1331.8" y="905.2"/><use href="#pc" x="1345.5" y="913"/><use href="#pc" x="1326.7" y="913.3"/><use href="#pc" x="1336.7" y="913.4"/><use href="#pc" x="1355.5" y="914"/><use href="#pc" x="1340.3" y="923.9"/><use href="#pc" x="1350.3" y="923.9"/><use href="#pc" x="1323.7" y="924.5"/><use href="#pc" x="1331.8" y="925.4"/></g><circle cx="1343" cy="1037.5" r="78.8" fill="#fff" stroke="#231f20" stroke-width="2.6"/><clipPath id="ic1037"><circle cx="1343" cy="1037.5" r="77"/></clipPath><g clip-path="url(#ic1037)"><use href="#pc" x="1311.8" y="974.6"/><use href="#pc" x="1321.7" y="974.8"/><use href="#pc" x="1330.7" y="975.5"/><use href="#pc" x="1301.8" y="977"/><use href="#pc" x="1317.8" y="985.6"/><use href="#pc" x="1326.9" y="986.2"/><use href="#pc" x="1307.8" y="987.2"/><use href="#pc" x="1331.8" y="994.1"/><use href="#pc" x="1321.7" y="995.2"/><use href="#pc" x="1303.3" y="995.8"/><use href="#pc" x="1313.6" y="997"/><use href="#pc" x="1317.1" y="1004.3"/><use href="#pc" x="1306.4" y="1005.6"/><use href="#pc" x="1326.4" y="1006.6"/><use href="#pc" x="1370.9" y="981.3"/><use href="#pc" x="1353.6" y="981.6"/><use href="#pc" x="1362.8" y="983.2"/><use href="#pc" x="1347.3" y="991.3"/><use href="#pc" x="1365.4" y="991.7"/><use href="#pc" x="1358.3" y="991.8"/><use href="#pc" x="1374.1" y="992.2"/><use href="#pc" x="1371.4" y="1000.8"/><use href="#pc" x="1350.7" y="1001.7"/><use href="#pc" x="1343.8" y="1002.6"/><use href="#pc" x="1360.7" y="1002.9"/><use href="#pc" x="1375.9" y="1010.3"/><use href="#pc" x="1349.1" y="1010.8"/><use href="#pc" x="1357.1" y="1011.3"/><use href="#pc" x="1366.4" y="1011.7"/><use href="#pc" x="1400.9" y="1001.8"/><use href="#pc" x="1365.6" y="1002"/><use href="#pc" x="1383.8" y="1002.1"/><use href="#pc" x="1374.1" y="1002.6"/><use href="#pc" x="1393.8" y="1002.8"/><use href="#pc" x="1380.5" y="1012.4"/><use href="#pc" x="1397.5" y="1012.5"/><use href="#pc" x="1387" y="1013.1"/><use href="#pc" x="1370" y="1013.5"/><use href="#pc" x="1385" y="1021.2"/><use href="#pc" x="1374.4" y="1021.8"/><use href="#pc" x="1392.5" y="1023.1"/><use href="#pc" x="1401" y="1023.1"/><use href="#pc" x="1365.4" y="1023.3"/><use href="#pc" x="1389.7" y="1030.8"/><use href="#pc" x="1370.7" y="1031.7"/><use href="#pc" x="1397.6" y="1032"/><use href="#pc" x="1378.7" y="1032.7"/><use href="#pc" x="1375.6" y="1040.4"/><use href="#pc" x="1394" y="1042.2"/><use href="#pc" x="1383.1" y="1042.7"/><use href="#pc" x="1312.8" y="1013.6"/><use href="#pc" x="1322.4" y="1014.2"/><use href="#pc" x="1331" y="1016.4"/><use href="#pc" x="1304.4" y="1016.5"/><use href="#pc" x="1308.2" y="1023.7"/><use href="#pc" x="1334.9" y="1023.8"/><use href="#pc" x="1324.9" y="1025.1"/><use href="#pc" x="1316.2" y="1026.1"/><use href="#pc" x="1303.4" y="1033.2"/><use href="#pc" x="1320.1" y="1033.3"/><use href="#pc" x="1311" y="1034.2"/><use href="#pc" x="1330.8" y="1035.3"/><use href="#pc" x="1308.7" y="1043.3"/><use href="#pc" x="1316.6" y="1043.8"/><use href="#pc" x="1326.3" y="1044.4"/><use href="#pc" x="1314.8" y="1049.4"/><use href="#pc" x="1295.2" y="1049.4"/><use href="#pc" x="1285.7" y="1049.6"/><use href="#pc" x="1305.4" y="1050.2"/><use href="#pc" x="1310.1" y="1057.7"/><use href="#pc" x="1318.4" y="1058.4"/><use href="#pc" x="1290.9" y="1059"/><use href="#pc" x="1300.1" y="1059.6"/><use href="#pc" x="1313.4" y="1067.5"/><use href="#pc" x="1287.7" y="1067.6"/><use href="#pc" x="1296.8" y="1069.1"/><use href="#pc" x="1304.2" y="1069.1"/><use href="#pc" x="1291.9" y="1077.6"/><use href="#pc" x="1301.9" y="1078.3"/><use href="#pc" x="1317.8" y="1079.1"/><use href="#pc" x="1309.5" y="1079.3"/><use href="#pc" x="1304.6" y="1087"/><use href="#pc" x="1285.7" y="1087.2"/><use href="#pc" x="1316" y="1088.7"/><use href="#pc" x="1297.6" y="1088.7"/><use href="#pc" x="1383.1" y="1048.5"/><use href="#pc" x="1393.4" y="1048.5"/><use href="#pc" x="1375.1" y="1048.6"/><use href="#pc" x="1380.2" y="1058.6"/><use href="#pc" x="1389.6" y="1058.9"/><use href="#pc" x="1398" y="1059"/><use href="#pc" x="1371.1" y="1059.2"/><use href="#pc" x="1393.9" y="1067.1"/><use href="#pc" x="1364.3" y="1067.2"/><use href="#pc" x="1373.8" y="1067.2"/><use href="#pc" x="1385.1" y="1068.5"/><use href="#pc" x="1379.2" y="1077.2"/><use href="#pc" x="1387.5" y="1077.4"/><use href="#pc" x="1397.3" y="1078.1"/><use href="#pc" x="1370.5" y="1078.2"/><use href="#pc" x="1364.8" y="1087.5"/><use href="#pc" x="1373.7" y="1087.6"/><use href="#pc" x="1383.1" y="1088.1"/><use href="#pc" x="1391.7" y="1089.5"/><use href="#pc" x="1387.4" y="1098.5"/><use href="#pc" x="1370.7" y="1098.5"/><use href="#pc" x="1379.2" y="1099.3"/><use href="#pc" x="1332.4" y="1050.7"/><use href="#pc" x="1351.2" y="1051.4"/><use href="#pc" x="1342.1" y="1053.4"/><use href="#pc" x="1346" y="1061"/><use href="#pc" x="1328.5" y="1061.1"/><use href="#pc" x="1338.5" y="1062.5"/><use href="#pc" x="1334.6" y="1070.1"/><use href="#pc" x="1351.3" y="1070.2"/><use href="#pc" x="1324.4" y="1071.4"/><use href="#pc" x="1341.1" y="1072.4"/><use href="#pc" x="1345.8" y="1080.1"/><use href="#pc" x="1337.9" y="1081"/><use href="#pc" x="1328.7" y="1082.9"/><use href="#pc" x="1332.4" y="1089.9"/><use href="#pc" x="1325.3" y="1089.9"/><use href="#pc" x="1342.1" y="1089.9"/><use href="#pc" x="1350.9" y="1090.9"/></g><circle cx="1343" cy="1204.7" r="78.8" fill="#fff" stroke="#231f20" stroke-width="2.6"/><clipPath id="ic1204"><circle cx="1343" cy="1204.7" r="77"/></clipPath><g clip-path="url(#ic1204)"><use href="#pc" x="1302.4" y="1141.7"/><use href="#pc" x="1320.4" y="1143"/><use href="#pc" x="1330.3" y="1143.1"/><use href="#pc" x="1310.8" y="1144.4"/><use href="#pc" x="1306.4" y="1152.2"/><use href="#pc" x="1315.6" y="1152.9"/><use href="#pc" x="1327.3" y="1153.1"/><use href="#pc" x="1301.6" y="1162.7"/><use href="#pc" x="1312.2" y="1162.8"/><use href="#pc" x="1321" y="1163"/><use href="#pc" x="1331.3" y="1163.8"/><use href="#pc" x="1317.8" y="1171.6"/><use href="#pc" x="1324.8" y="1171.8"/><use href="#pc" x="1307" y="1172.2"/><use href="#pc" x="1334" y="1173.2"/><use href="#pc" x="1351.1" y="1146.7"/><use href="#pc" x="1360.6" y="1146.8"/><use href="#pc" x="1344" y="1147.4"/><use href="#pc" x="1370.4" y="1148.2"/><use href="#pc" x="1348.2" y="1156.4"/><use href="#pc" x="1365.6" y="1156.6"/><use href="#pc" x="1355.9" y="1157.2"/><use href="#pc" x="1375" y="1157.2"/><use href="#pc" x="1353" y="1167.8"/><use href="#pc" x="1344.2" y="1168.1"/><use href="#pc" x="1361.2" y="1168.6"/><use href="#pc" x="1371.1" y="1169"/><use href="#pc" x="1356.4" y="1176.3"/><use href="#pc" x="1364.7" y="1176.4"/><use href="#pc" x="1374.5" y="1177.9"/><use href="#pc" x="1346.9" y="1178.3"/><use href="#pc" x="1285.2" y="1183.7"/><use href="#pc" x="1294.7" y="1184.6"/><use href="#pc" x="1278.2" y="1185.2"/><use href="#pc" x="1306.1" y="1186.3"/><use href="#pc" x="1290.7" y="1193.3"/><use href="#pc" x="1310.3" y="1193.6"/><use href="#pc" x="1281.8" y="1194.4"/><use href="#pc" x="1300.7" y="1195.8"/><use href="#pc" x="1294.7" y="1204.1"/><use href="#pc" x="1278" y="1204.4"/><use href="#pc" x="1306.2" y="1204.5"/><use href="#pc" x="1287.9" y="1205.5"/><use href="#pc" x="1300.7" y="1213.2"/><use href="#pc" x="1310.5" y="1214.2"/><use href="#pc" x="1282.8" y="1215.7"/><use href="#pc" x="1291.3" y="1215.8"/><use href="#pc" x="1304.3" y="1223.3"/><use href="#pc" x="1295.5" y="1223.3"/><use href="#pc" x="1276" y="1224.4"/><use href="#pc" x="1286.5" y="1225.3"/><use href="#pc" x="1282.8" y="1233.2"/><use href="#pc" x="1290.8" y="1233.2"/><use href="#pc" x="1301.8" y="1235"/><use href="#pc" x="1387.8" y="1184"/><use href="#pc" x="1408.8" y="1184.1"/><use href="#pc" x="1381" y="1185"/><use href="#pc" x="1397.2" y="1185.7"/><use href="#pc" x="1402.6" y="1193.3"/><use href="#pc" x="1412.2" y="1195.1"/><use href="#pc" x="1394.2" y="1195.7"/><use href="#pc" x="1385.1" y="1195.9"/><use href="#pc" x="1379.5" y="1203.2"/><use href="#pc" x="1388.6" y="1204.2"/><use href="#pc" x="1398.3" y="1205.2"/><use href="#pc" x="1407.3" y="1206"/><use href="#pc" x="1412.7" y="1214.5"/><use href="#pc" x="1402.6" y="1214.7"/><use href="#pc" x="1385.2" y="1214.9"/><use href="#pc" x="1393.9" y="1215.3"/><use href="#pc" x="1408.9" y="1223.5"/><use href="#pc" x="1399" y="1223.6"/><use href="#pc" x="1378.8" y="1223.8"/><use href="#pc" x="1389.4" y="1225"/><use href="#pc" x="1349" y="1188.6"/><use href="#pc" x="1321.5" y="1188.8"/><use href="#pc" x="1339.7" y="1189.3"/><use href="#pc" x="1331.3" y="1189.5"/><use href="#pc" x="1343.4" y="1196.6"/><use href="#pc" x="1352.6" y="1197.1"/><use href="#pc" x="1326.5" y="1197.3"/><use href="#pc" x="1335.9" y="1198.2"/><use href="#pc" x="1329.6" y="1206.7"/><use href="#pc" x="1348.9" y="1207.5"/><use href="#pc" x="1339.7" y="1208.1"/><use href="#pc" x="1321.9" y="1208.2"/><use href="#pc" x="1353.7" y="1216.9"/><use href="#pc" x="1324.7" y="1217"/><use href="#pc" x="1342.7" y="1218.1"/><use href="#pc" x="1334.9" y="1218.9"/><use href="#pc" x="1349.5" y="1226.9"/><use href="#pc" x="1330.6" y="1227.3"/><use href="#pc" x="1338.9" y="1227.6"/><use href="#pc" x="1321.7" y="1228.6"/><use href="#pc" x="1339.8" y="1230.3"/><use href="#pc" x="1333.4" y="1230.6"/><use href="#pc" x="1358.7" y="1230.6"/><use href="#pc" x="1350.6" y="1231.8"/><use href="#pc" x="1353.7" y="1241.3"/><use href="#pc" x="1336.9" y="1241.7"/><use href="#pc" x="1346.4" y="1242"/><use href="#pc" x="1360.6" y="1251"/><use href="#pc" x="1349.6" y="1251.7"/><use href="#pc" x="1331.5" y="1252.2"/><use href="#pc" x="1341.6" y="1252.4"/><use href="#pc" x="1344.8" y="1259.7"/><use href="#pc" x="1335.4" y="1260"/><use href="#pc" x="1354" y="1261.2"/><use href="#pc" x="1363" y="1261.7"/><use href="#pc" x="1342.1" y="1271.3"/><use href="#pc" x="1332.7" y="1271.6"/><use href="#pc" x="1351.7" y="1272.1"/><use href="#pc" x="1360" y="1272.1"/></g><line x1="1490.4" y1="873.6" x2="1626" y2="873.6" stroke="#231f20" stroke-width="3" /><polygon points="1647.4,873.6 1618.4,885.6 1623.4,873.6 1618.4,861.6" fill="#231f20"/><line x1="1490.4" y1="1039.4" x2="1626" y2="1039.4" stroke="#231f20" stroke-width="3" /><polygon points="1647.4,1039.4 1618.4,1051.4 1623.4,1039.4 1618.4,1027.4" fill="#231f20"/><line x1="1490.4" y1="1202.5" x2="1626" y2="1202.5" stroke="#231f20" stroke-width="3" /><polygon points="1647.4,1202.5 1618.4,1214.5 1623.4,1202.5 1618.4,1190.5" fill="#231f20"/><clipPath id="cc0"><rect x="1698.7" y="780.5" width="213.7" height="162.5"/></clipPath><rect x="1698.7" y="780.5" width="213.7" height="162.5" fill="#d3d3d4"/><g clip-path="url(#cc0)"><circle cx="1848" cy="885" r="2.1" fill="none" stroke="#8a8a8e" stroke-width="1"/><circle cx="1871" cy="914.9" r="2.2" fill="none" stroke="#8a8a8e" stroke-width="1"/><circle cx="1746.5" cy="776" r="4.2" fill="none" stroke="#8a8a8e" stroke-width="1"/><circle cx="1709.2" cy="912.4" r="5.2" fill="#c2c2c5" stroke="#78787c" stroke-width="1"/><circle cx="1703.2" cy="947.6" r="2.3" fill="none" stroke="#8a8a8e" stroke-width="1"/><circle cx="1831.5" cy="781.4" r="11.2" fill="none" stroke="#78787c" stroke-width="1"/><circle cx="1719.6" cy="939.7" r="4.1" fill="none" stroke="#8a8a8e" stroke-width="1"/><circle cx="1876.6" cy="797" r="2.1" fill="none" stroke="#8a8a8e" stroke-width="1"/><circle cx="1817.2" cy="834.7" r="3.7" fill="none" stroke="#8a8a8e" stroke-width="1"/><circle cx="1702" cy="924.9" r="2.2" fill="#c2c2c5" stroke="#8a8a8e" stroke-width="1"/><circle cx="1740.4" cy="942.6" r="8.8" fill="none" stroke="#78787c" stroke-width="1"/><circle cx="1864.3" cy="875.7" r="8.3" fill="none" stroke="#78787c" stroke-width="1"/><circle cx="1800.3" cy="918.2" r="2.1" fill="#c2c2c5" stroke="#8a8a8e" stroke-width="1"/><circle cx="1892.2" cy="846.2" r="12.6" fill="none" stroke="#78787c" stroke-width="1"/><circle cx="1780" cy="947.1" r="3.6" fill="none" stroke="#8a8a8e" stroke-width="1"/><circle cx="1714.6" cy="899.4" r="2" fill="none" stroke="#8a8a8e" stroke-width="1"/><circle cx="1803.7" cy="870.4" r="4.1" fill="none" stroke="#8a8a8e" stroke-width="1"/><circle cx="1829.9" cy="871.5" r="2.3" fill="none" stroke="#8a8a8e" stroke-width="1"/><circle cx="1731.7" cy="835.6" r="2.2" fill="none" stroke="#8a8a8e" stroke-width="1"/><circle cx="1827.3" cy="828.4" r="2.8" fill="#c2c2c5" stroke="#8a8a8e" stroke-width="1"/><circle cx="1875.7" cy="909.5" r="2" fill="none" stroke="#8a8a8e" stroke-width="1"/><circle cx="1844.9" cy="930.5" r="6.8" fill="none" stroke="#78787c" stroke-width="1"/><circle cx="1915" cy="941.3" r="3.3" fill="none" stroke="#8a8a8e" stroke-width="1"/><circle cx="1803.5" cy="840.3" r="11.4" fill="#c2c2c5" stroke="#78787c" stroke-width="1"/><circle cx="1730" cy="787.5" r="11.2" fill="none" stroke="#78787c" stroke-width="1"/><circle cx="1801.8" cy="919.9" r="8.7" fill="#c2c2c5" stroke="#78787c" stroke-width="1"/><circle cx="1758.5" cy="847.9" r="2.4" fill="#c2c2c5" stroke="#8a8a8e" stroke-width="1"/><circle cx="1769.3" cy="930.6" r="2" fill="none" stroke="#8a8a8e" stroke-width="1"/><circle cx="1800.8" cy="819" r="8.1" fill="none" stroke="#78787c" stroke-width="1"/><circle cx="1856.7" cy="780.4" r="4.4" fill="#c2c2c5" stroke="#8a8a8e" stroke-width="1"/><circle cx="1871.6" cy="927.6" r="10.2" fill="none" stroke="#78787c" stroke-width="1"/><circle cx="1823.7" cy="922" r="3.4" fill="none" stroke="#8a8a8e" stroke-width="1"/><circle cx="1755.4" cy="908" r="4.5" fill="#c2c2c5" stroke="#8a8a8e" stroke-width="1"/><circle cx="1907.1" cy="779.6" r="6.9" fill="none" stroke="#78787c" stroke-width="1"/><circle cx="1884.2" cy="876.3" r="6.1" fill="none" stroke="#78787c" stroke-width="1"/><circle cx="1908.2" cy="931.7" r="3.2" fill="#c2c2c5" stroke="#8a8a8e" stroke-width="1"/><circle cx="1714.7" cy="779.9" r="2" fill="none" stroke="#8a8a8e" stroke-width="1"/><circle cx="1887.7" cy="888.5" r="2.1" fill="#c2c2c5" stroke="#8a8a8e" stroke-width="1"/><circle cx="1766.2" cy="860.7" r="4.6" fill="#c2c2c5" stroke="#8a8a8e" stroke-width="1"/><circle cx="1734.8" cy="840.7" r="2.1" fill="none" stroke="#8a8a8e" stroke-width="1"/><circle cx="1704" cy="898.1" r="4.7" fill="none" stroke="#8a8a8e" stroke-width="1"/><circle cx="1870.6" cy="776.8" r="8.7" fill="none" stroke="#78787c" stroke-width="1"/><circle cx="1864.6" cy="805.7" r="2" fill="none" stroke="#8a8a8e" stroke-width="1"/><circle cx="1849.6" cy="829.6" r="2.4" fill="#c2c2c5" stroke="#8a8a8e" stroke-width="1"/><circle cx="1762.9" cy="930.9" r="3.1" fill="none" stroke="#8a8a8e" stroke-width="1"/><circle cx="1816.6" cy="939.1" r="4.2" fill="#c2c2c5" stroke="#8a8a8e" stroke-width="1"/><circle cx="1807.4" cy="902.2" r="5.5" fill="none" stroke="#78787c" stroke-width="1"/><circle cx="1850.2" cy="866.2" r="2.6" fill="none" stroke="#8a8a8e" stroke-width="1"/><circle cx="1875.9" cy="944" r="2" fill="none" stroke="#8a8a8e" stroke-width="1"/><circle cx="1915.9" cy="794.1" r="2.7" fill="#c2c2c5" stroke="#8a8a8e" stroke-width="1"/><circle cx="1875.9" cy="906.6" r="2" fill="none" stroke="#8a8a8e" stroke-width="1"/><circle cx="1698.1" cy="886.7" r="5.8" fill="none" stroke="#78787c" stroke-width="1"/><circle cx="1780.8" cy="844.8" r="4.3" fill="#c2c2c5" stroke="#8a8a8e" stroke-width="1"/><circle cx="1790.8" cy="818.1" r="2" fill="none" stroke="#8a8a8e" stroke-width="1"/><circle cx="1855.6" cy="854.2" r="9.7" fill="#c2c2c5" stroke="#78787c" stroke-width="1"/><circle cx="1802.6" cy="884.5" r="3.1" fill="none" stroke="#8a8a8e" stroke-width="1"/><circle cx="1801" cy="860.4" r="2" fill="none" stroke="#8a8a8e" stroke-width="1"/><circle cx="1868.1" cy="883.6" r="11.6" fill="none" stroke="#78787c" stroke-width="1"/><circle cx="1885.8" cy="896.1" r="6.6" fill="none" stroke="#78787c" stroke-width="1"/><circle cx="1898.8" cy="842.1" r="2.3" fill="none" stroke="#8a8a8e" stroke-width="1"/><circle cx="1909.3" cy="946.1" r="9.9" fill="#c2c2c5" stroke="#78787c" stroke-width="1"/><circle cx="1763.4" cy="843" r="2.6" fill="#c2c2c5" stroke="#8a8a8e" stroke-width="1"/><circle cx="1711.5" cy="827.7" r="4.8" fill="none" stroke="#8a8a8e" stroke-width="1"/><circle cx="1797.1" cy="794.2" r="8" fill="none" stroke="#78787c" stroke-width="1"/><circle cx="1739.7" cy="833.3" r="7.2" fill="none" stroke="#78787c" stroke-width="1"/><circle cx="1752.1" cy="939.6" r="6.8" fill="none" stroke="#78787c" stroke-width="1"/><circle cx="1882.8" cy="802" r="2.4" fill="none" stroke="#8a8a8e" stroke-width="1"/><circle cx="1827.5" cy="823.4" r="2.2" fill="none" stroke="#8a8a8e" stroke-width="1"/><circle cx="1798.2" cy="850.9" r="13.1" fill="none" stroke="#78787c" stroke-width="1"/><circle cx="1732.7" cy="841.8" r="2.5" fill="none" stroke="#8a8a8e" stroke-width="1"/><circle cx="1908.6" cy="781.4" r="2.2" fill="none" stroke="#8a8a8e" stroke-width="1"/><circle cx="1851.3" cy="778.8" r="12.9" fill="none" stroke="#78787c" stroke-width="1"/><circle cx="1829.7" cy="896.3" r="2" fill="#c2c2c5" stroke="#8a8a8e" stroke-width="1"/><circle cx="1815.5" cy="791.8" r="2" fill="none" stroke="#8a8a8e" stroke-width="1"/><circle cx="1893.8" cy="839.3" r="3.7" fill="#c2c2c5" stroke="#8a8a8e" stroke-width="1"/><circle cx="1877.7" cy="866.8" r="9.1" fill="#c2c2c5" stroke="#78787c" stroke-width="1"/><circle cx="1783.8" cy="870.7" r="2.2" fill="#c2c2c5" stroke="#8a8a8e" stroke-width="1"/><circle cx="1882.4" cy="935.1" r="9.3" fill="none" stroke="#78787c" stroke-width="1"/><circle cx="1823.9" cy="789.4" r="2" fill="none" stroke="#8a8a8e" stroke-width="1"/><circle cx="1863.5" cy="808" r="8.1" fill="#c2c2c5" stroke="#78787c" stroke-width="1"/></g><line x1="1869.2" y1="929" x2="1906" y2="929" stroke="#231f20" stroke-width="3.4" /><clipPath id="cc1"><rect x="1698.7" y="949.2" width="213.7" height="162.5"/></clipPath><rect x="1698.7" y="949.2" width="213.7" height="162.5" fill="#d3d3d4"/><g clip-path="url(#cc1)"><circle cx="1829.4" cy="1051.2" r="9.6" fill="none" stroke="#78787c" stroke-width="1"/><circle cx="1769.3" cy="990.7" r="9.3" fill="none" stroke="#78787c" stroke-width="1"/><circle cx="1834" cy="1097.8" r="2.6" fill="#c2c2c5" stroke="#8a8a8e" stroke-width="1"/><circle cx="1808.2" cy="1061.2" r="2" fill="#c2c2c5" stroke="#8a8a8e" stroke-width="1"/><circle cx="1706.8" cy="950.6" r="2.4" fill="none" stroke="#8a8a8e" stroke-width="1"/><circle cx="1839.8" cy="971.5" r="6.8" fill="#c2c2c5" stroke="#78787c" stroke-width="1"/><circle cx="1814.2" cy="1014.7" r="12.8" fill="none" stroke="#78787c" stroke-width="1"/><circle cx="1811" cy="957.7" r="7.7" fill="none" stroke="#78787c" stroke-width="1"/><circle cx="1702.8" cy="1005" r="2.2" fill="none" stroke="#8a8a8e" stroke-width="1"/><circle cx="1732.6" cy="1066.6" r="5.9" fill="none" stroke="#78787c" stroke-width="1"/><circle cx="1884.1" cy="1083.4" r="2.1" fill="none" stroke="#8a8a8e" stroke-width="1"/><circle cx="1742.3" cy="1078.3" r="6.8" fill="none" stroke="#78787c" stroke-width="1"/><circle cx="1896.9" cy="1111.6" r="4.5" fill="none" stroke="#8a8a8e" stroke-width="1"/><circle cx="1903.3" cy="1081.1" r="13.1" fill="#c2c2c5" stroke="#78787c" stroke-width="1"/><circle cx="1831" cy="1048.9" r="2.9" fill="none" stroke="#8a8a8e" stroke-width="1"/><circle cx="1729.8" cy="1104.8" r="6.2" fill="none" stroke="#78787c" stroke-width="1"/><circle cx="1740" cy="1116.4" r="11.4" fill="none" stroke="#78787c" stroke-width="1"/><circle cx="1859.2" cy="1096.5" r="8.7" fill="none" stroke="#78787c" stroke-width="1"/><circle cx="1784.4" cy="975" r="2" fill="none" stroke="#8a8a8e" stroke-width="1"/><circle cx="1774.7" cy="966.8" r="9.6" fill="#c2c2c5" stroke="#78787c" stroke-width="1"/><circle cx="1823.5" cy="948.7" r="3.4" fill="none" stroke="#8a8a8e" stroke-width="1"/><circle cx="1717.6" cy="1104.2" r="2.2" fill="none" stroke="#8a8a8e" stroke-width="1"/><circle cx="1808.7" cy="965.4" r="11.7" fill="#c2c2c5" stroke="#78787c" stroke-width="1"/><circle cx="1837.1" cy="1077.2" r="3.4" fill="none" stroke="#8a8a8e" stroke-width="1"/><circle cx="1750.3" cy="1018.4" r="6.3" fill="none" stroke="#78787c" stroke-width="1"/><circle cx="1753.1" cy="1037" r="4" fill="none" stroke="#8a8a8e" stroke-width="1"/><circle cx="1877.8" cy="1045.4" r="2" fill="none" stroke="#8a8a8e" stroke-width="1"/><circle cx="1857.2" cy="1115.6" r="7.9" fill="none" stroke="#78787c" stroke-width="1"/><circle cx="1694.5" cy="1058.8" r="3.2" fill="none" stroke="#8a8a8e" stroke-width="1"/><circle cx="1916.9" cy="978.2" r="5.1" fill="#c2c2c5" stroke="#78787c" stroke-width="1"/><circle cx="1875.4" cy="1027.5" r="7.8" fill="#c2c2c5" stroke="#78787c" stroke-width="1"/><circle cx="1878.6" cy="1030.4" r="3" fill="none" stroke="#8a8a8e" stroke-width="1"/><circle cx="1834.3" cy="1047.4" r="3.1" fill="none" stroke="#8a8a8e" stroke-width="1"/><circle cx="1861.8" cy="1008.9" r="10.9" fill="none" stroke="#78787c" stroke-width="1"/><circle cx="1871.1" cy="1104.3" r="8.9" fill="#c2c2c5" stroke="#78787c" stroke-width="1"/><circle cx="1892.9" cy="957.5" r="10.5" fill="none" stroke="#78787c" stroke-width="1"/><circle cx="1726.4" cy="1087.6" r="6" fill="none" stroke="#78787c" stroke-width="1"/><circle cx="1759.9" cy="981.8" r="6.8" fill="#c2c2c5" stroke="#78787c" stroke-width="1"/><circle cx="1853.2" cy="981.8" r="4.1" fill="none" stroke="#8a8a8e" stroke-width="1"/><circle cx="1838.9" cy="1007.7" r="2.8" fill="#c2c2c5" stroke="#8a8a8e" stroke-width="1"/><circle cx="1706.6" cy="1064.3" r="2.1" fill="none" stroke="#8a8a8e" stroke-width="1"/><circle cx="1890.7" cy="1057.2" r="2.1" fill="#c2c2c5" stroke="#8a8a8e" stroke-width="1"/><circle cx="1826.7" cy="1020.7" r="7.6" fill="none" stroke="#78787c" stroke-width="1"/><circle cx="1777.3" cy="1053.9" r="13.8" fill="none" stroke="#78787c" stroke-width="1"/><circle cx="1771.2" cy="1074.4" r="3" fill="none" stroke="#8a8a8e" stroke-width="1"/><circle cx="1808.6" cy="982.8" r="3.7" fill="none" stroke="#8a8a8e" stroke-width="1"/><circle cx="1837.6" cy="1022.7" r="2" fill="#c2c2c5" stroke="#8a8a8e" stroke-width="1"/><circle cx="1824.1" cy="959.2" r="5.3" fill="none" stroke="#78787c" stroke-width="1"/><circle cx="1872.5" cy="1000.6" r="2.1" fill="none" stroke="#8a8a8e" stroke-width="1"/><circle cx="1704.5" cy="976.4" r="2.2" fill="#c2c2c5" stroke="#8a8a8e" stroke-width="1"/><circle cx="1883.3" cy="982.3" r="5.8" fill="#c2c2c5" stroke="#78787c" stroke-width="1"/><circle cx="1719.6" cy="1014.1" r="4.5" fill="none" stroke="#8a8a8e" stroke-width="1"/><circle cx="1850.2" cy="1037.1" r="2.2" fill="#c2c2c5" stroke="#8a8a8e" stroke-width="1"/><circle cx="1827.8" cy="960.8" r="2.3" fill="#c2c2c5" stroke="#8a8a8e" stroke-width="1"/><circle cx="1876.7" cy="1034" r="5.1" fill="none" stroke="#78787c" stroke-width="1"/><circle cx="1761.4" cy="999.1" r="2" fill="none" stroke="#8a8a8e" stroke-width="1"/><circle cx="1869.3" cy="950.1" r="2.9" fill="none" stroke="#8a8a8e" stroke-width="1"/><circle cx="1866.2" cy="1044.2" r="11.6" fill="#c2c2c5" stroke="#78787c" stroke-width="1"/><circle cx="1711.5" cy="1110.6" r="12.7" fill="none" stroke="#78787c" stroke-width="1"/><circle cx="1812.4" cy="972.5" r="7.5" fill="none" stroke="#78787c" stroke-width="1"/><circle cx="1840.4" cy="1011.4" r="6.5" fill="none" stroke="#78787c" stroke-width="1"/><circle cx="1758" cy="959.8" r="2" fill="none" stroke="#8a8a8e" stroke-width="1"/><circle cx="1862.2" cy="970" r="9.1" fill="none" stroke="#78787c" stroke-width="1"/><circle cx="1841.8" cy="1020.5" r="2" fill="#c2c2c5" stroke="#8a8a8e" stroke-width="1"/><circle cx="1887.2" cy="1017.5" r="3" fill="none" stroke="#8a8a8e" stroke-width="1"/><circle cx="1799.6" cy="1040.2" r="5.9" fill="none" stroke="#78787c" stroke-width="1"/><circle cx="1804.3" cy="996.7" r="2.2" fill="none" stroke="#8a8a8e" stroke-width="1"/><circle cx="1898" cy="1017.6" r="2.2" fill="#c2c2c5" stroke="#8a8a8e" stroke-width="1"/><circle cx="1741.6" cy="1094" r="2" fill="none" stroke="#8a8a8e" stroke-width="1"/><circle cx="1745.3" cy="1056.4" r="6.5" fill="none" stroke="#78787c" stroke-width="1"/><circle cx="1811.9" cy="1009" r="7.9" fill="none" stroke="#78787c" stroke-width="1"/><circle cx="1879.8" cy="1063.5" r="5.4" fill="none" stroke="#78787c" stroke-width="1"/><circle cx="1893.1" cy="1090.2" r="2.7" fill="#c2c2c5" stroke="#8a8a8e" stroke-width="1"/><circle cx="1866.4" cy="1060.8" r="6.8" fill="none" stroke="#78787c" stroke-width="1"/><circle cx="1748.7" cy="1116.1" r="11.3" fill="none" stroke="#78787c" stroke-width="1"/><circle cx="1912.1" cy="973.1" r="3" fill="none" stroke="#8a8a8e" stroke-width="1"/><circle cx="1754.7" cy="990.3" r="5.8" fill="none" stroke="#78787c" stroke-width="1"/><circle cx="1860.1" cy="1080.5" r="5.6" fill="none" stroke="#78787c" stroke-width="1"/><circle cx="1877.9" cy="1113" r="11.7" fill="none" stroke="#78787c" stroke-width="1"/><circle cx="1808.7" cy="1111.4" r="7.2" fill="none" stroke="#78787c" stroke-width="1"/></g><line x1="1869.2" y1="1097.7" x2="1906" y2="1097.7" stroke="#231f20" stroke-width="3.4" /><clipPath id="cc2"><rect x="1698.7" y="1117.4" width="213.7" height="162.5"/></clipPath><rect x="1698.7" y="1117.4" width="213.7" height="162.5" fill="#d3d3d4"/><g clip-path="url(#cc2)"><circle cx="1842.2" cy="1163.3" r="3.5" fill="#c2c2c5" stroke="#8a8a8e" stroke-width="1"/><circle cx="1724.3" cy="1113.1" r="3.1" fill="#c2c2c5" stroke="#8a8a8e" stroke-width="1"/><circle cx="1864.5" cy="1120.8" r="3.7" fill="none" stroke="#8a8a8e" stroke-width="1"/><circle cx="1807.9" cy="1163.4" r="2" fill="none" stroke="#8a8a8e" stroke-width="1"/><circle cx="1786.2" cy="1180" r="7.4" fill="none" stroke="#78787c" stroke-width="1"/><circle cx="1771.8" cy="1233.5" r="2" fill="none" stroke="#8a8a8e" stroke-width="1"/><circle cx="1751.2" cy="1220.2" r="14.3" fill="none" stroke="#78787c" stroke-width="1"/><circle cx="1883" cy="1135.7" r="7.2" fill="none" stroke="#78787c" stroke-width="1"/><circle cx="1772.5" cy="1221.4" r="13" fill="none" stroke="#78787c" stroke-width="1"/><circle cx="1869" cy="1113" r="2.5" fill="none" stroke="#8a8a8e" stroke-width="1"/><circle cx="1771.1" cy="1149.2" r="2.1" fill="#c2c2c5" stroke="#8a8a8e" stroke-width="1"/><circle cx="1732.5" cy="1211.3" r="9.4" fill="none" stroke="#78787c" stroke-width="1"/><circle cx="1883.2" cy="1219.6" r="10.5" fill="#c2c2c5" stroke="#78787c" stroke-width="1"/><circle cx="1715.5" cy="1272.6" r="8.4" fill="none" stroke="#78787c" stroke-width="1"/><circle cx="1742.2" cy="1180.7" r="2.4" fill="none" stroke="#8a8a8e" stroke-width="1"/><circle cx="1860.6" cy="1238.2" r="10.6" fill="#c2c2c5" stroke="#78787c" stroke-width="1"/><circle cx="1761.8" cy="1187.2" r="2.7" fill="none" stroke="#8a8a8e" stroke-width="1"/><circle cx="1712.4" cy="1278.8" r="14.9" fill="none" stroke="#78787c" stroke-width="1"/><circle cx="1848.7" cy="1247.7" r="3.7" fill="#c2c2c5" stroke="#8a8a8e" stroke-width="1"/><circle cx="1913.3" cy="1264.3" r="5.7" fill="none" stroke="#78787c" stroke-width="1"/><circle cx="1853.6" cy="1196.3" r="2" fill="none" stroke="#8a8a8e" stroke-width="1"/><circle cx="1816.5" cy="1133.2" r="2.1" fill="none" stroke="#8a8a8e" stroke-width="1"/><circle cx="1700.7" cy="1165.8" r="7.6" fill="#c2c2c5" stroke="#78787c" stroke-width="1"/><circle cx="1834.6" cy="1123.2" r="6" fill="none" stroke="#78787c" stroke-width="1"/><circle cx="1792.3" cy="1211.4" r="13.9" fill="none" stroke="#78787c" stroke-width="1"/><circle cx="1782.8" cy="1188.4" r="5.5" fill="none" stroke="#78787c" stroke-width="1"/><circle cx="1760.4" cy="1244.1" r="2.2" fill="#c2c2c5" stroke="#8a8a8e" stroke-width="1"/><circle cx="1897.6" cy="1139.9" r="2" fill="none" stroke="#8a8a8e" stroke-width="1"/><circle cx="1752.2" cy="1173.2" r="2.6" fill="none" stroke="#8a8a8e" stroke-width="1"/><circle cx="1813" cy="1121.2" r="2" fill="#c2c2c5" stroke="#8a8a8e" stroke-width="1"/><circle cx="1747.5" cy="1171.3" r="2.2" fill="none" stroke="#8a8a8e" stroke-width="1"/><circle cx="1840.9" cy="1194" r="10.2" fill="none" stroke="#78787c" stroke-width="1"/><circle cx="1764.3" cy="1218.6" r="6.9" fill="none" stroke="#78787c" stroke-width="1"/><circle cx="1862" cy="1221.6" r="4.5" fill="none" stroke="#8a8a8e" stroke-width="1"/><circle cx="1843.9" cy="1280.9" r="2.4" fill="none" stroke="#8a8a8e" stroke-width="1"/><circle cx="1714.9" cy="1237.2" r="12" fill="none" stroke="#78787c" stroke-width="1"/><circle cx="1788.4" cy="1204.7" r="8.2" fill="#c2c2c5" stroke="#78787c" stroke-width="1"/><circle cx="1887.3" cy="1223.4" r="2.4" fill="none" stroke="#8a8a8e" stroke-width="1"/><circle cx="1759.3" cy="1279.4" r="2" fill="#c2c2c5" stroke="#8a8a8e" stroke-width="1"/><circle cx="1849.5" cy="1200.5" r="4.6" fill="none" stroke="#8a8a8e" stroke-width="1"/><circle cx="1868.5" cy="1153.3" r="14" fill="none" stroke="#78787c" stroke-width="1"/><circle cx="1846.7" cy="1228.8" r="3.4" fill="none" stroke="#8a8a8e" stroke-width="1"/><circle cx="1790.2" cy="1115" r="7" fill="none" stroke="#78787c" stroke-width="1"/><circle cx="1737.8" cy="1228.1" r="3" fill="none" stroke="#8a8a8e" stroke-width="1"/><circle cx="1834.5" cy="1260.3" r="12.8" fill="none" stroke="#78787c" stroke-width="1"/><circle cx="1893.6" cy="1122.7" r="5.2" fill="none" stroke="#78787c" stroke-width="1"/><circle cx="1770" cy="1186.2" r="3" fill="#c2c2c5" stroke="#8a8a8e" stroke-width="1"/><circle cx="1907.7" cy="1152.8" r="6.8" fill="#c2c2c5" stroke="#78787c" stroke-width="1"/><circle cx="1871.9" cy="1151.5" r="2.8" fill="none" stroke="#8a8a8e" stroke-width="1"/><circle cx="1826.8" cy="1236.8" r="2.1" fill="none" stroke="#8a8a8e" stroke-width="1"/><circle cx="1907.7" cy="1258.7" r="2" fill="none" stroke="#8a8a8e" stroke-width="1"/><circle cx="1828.1" cy="1141.5" r="10.8" fill="none" stroke="#78787c" stroke-width="1"/><circle cx="1797.4" cy="1119.6" r="9.8" fill="#c2c2c5" stroke="#78787c" stroke-width="1"/><circle cx="1824.8" cy="1223.5" r="2.2" fill="none" stroke="#8a8a8e" stroke-width="1"/><circle cx="1909.1" cy="1171.5" r="3.2" fill="none" stroke="#8a8a8e" stroke-width="1"/><circle cx="1808.7" cy="1143.4" r="2.2" fill="#c2c2c5" stroke="#8a8a8e" stroke-width="1"/><circle cx="1719.4" cy="1178.2" r="2.8" fill="none" stroke="#8a8a8e" stroke-width="1"/><circle cx="1871.7" cy="1194.7" r="4.7" fill="#c2c2c5" stroke="#8a8a8e" stroke-width="1"/><circle cx="1783.6" cy="1242" r="7.7" fill="none" stroke="#78787c" stroke-width="1"/><circle cx="1749.7" cy="1174.1" r="4.4" fill="none" stroke="#8a8a8e" stroke-width="1"/><circle cx="1716.4" cy="1181.1" r="2.7" fill="none" stroke="#8a8a8e" stroke-width="1"/><circle cx="1864.1" cy="1264.9" r="9.7" fill="none" stroke="#78787c" stroke-width="1"/><circle cx="1837.8" cy="1121.7" r="3.3" fill="none" stroke="#8a8a8e" stroke-width="1"/><circle cx="1753" cy="1193.9" r="7.3" fill="none" stroke="#78787c" stroke-width="1"/><circle cx="1789.2" cy="1247.1" r="9.2" fill="none" stroke="#78787c" stroke-width="1"/><circle cx="1778.7" cy="1171.5" r="8.8" fill="none" stroke="#78787c" stroke-width="1"/><circle cx="1736.1" cy="1174.9" r="12" fill="none" stroke="#78787c" stroke-width="1"/><circle cx="1757" cy="1189.4" r="8.3" fill="none" stroke="#78787c" stroke-width="1"/><circle cx="1755" cy="1227" r="2" fill="none" stroke="#8a8a8e" stroke-width="1"/><circle cx="1798.7" cy="1248.7" r="13.3" fill="none" stroke="#78787c" stroke-width="1"/><circle cx="1744.6" cy="1157.2" r="2.7" fill="none" stroke="#8a8a8e" stroke-width="1"/><circle cx="1816" cy="1272.8" r="2.1" fill="#c2c2c5" stroke="#8a8a8e" stroke-width="1"/><circle cx="1812.2" cy="1279.1" r="5.9" fill="none" stroke="#78787c" stroke-width="1"/><circle cx="1895.8" cy="1242.2" r="4" fill="#c2c2c5" stroke="#8a8a8e" stroke-width="1"/><circle cx="1783" cy="1279.5" r="9.4" fill="none" stroke="#78787c" stroke-width="1"/><circle cx="1786.8" cy="1151.6" r="4.1" fill="none" stroke="#8a8a8e" stroke-width="1"/><circle cx="1731.3" cy="1238.4" r="2.2" fill="#c2c2c5" stroke="#8a8a8e" stroke-width="1"/><circle cx="1827.4" cy="1239.3" r="5.4" fill="none" stroke="#78787c" stroke-width="1"/><circle cx="1756.6" cy="1128.5" r="12.7" fill="none" stroke="#78787c" stroke-width="1"/><circle cx="1914.7" cy="1271.4" r="2.4" fill="none" stroke="#8a8a8e" stroke-width="1"/></g><line x1="1869.2" y1="1265.9" x2="1906" y2="1265.9" stroke="#231f20" stroke-width="3.4" /><text x="853.3" y="1429.5" font-size="51" text-anchor="start" font-weight="bold" fill="#000" >D)</text><text x="1128.5" y="1348.1" font-size="39.5" text-anchor="middle" fill="#000" >0h</text><text x="1818" y="1348" font-size="39.5" text-anchor="middle" fill="#000" >24h</text><text transform="translate(945.9,1478) rotate(-90)" font-size="32" text-anchor="middle" >Bright Field</text><text transform="translate(945.9,1725) rotate(-90)" font-size="32" text-anchor="middle" >Segmentation</text><clipPath id="cd0"><rect x="971" y="1359.4" width="316" height="236.5"/></clipPath><rect x="971" y="1359.4" width="316" height="236.5" fill="#acacac"/><g clip-path="url(#cd0)"><ellipse cx="1029" cy="1463.3" rx="19" ry="19" fill-opacity="0.03" fill="#000" stroke="#55555a" stroke-width="1.3"/><ellipse cx="1094.2" cy="1493.3" rx="14.4" ry="14.4" fill-opacity="0.03" fill="#000" stroke="#55555a" stroke-width="1.3"/><ellipse cx="1050" cy="1533.4" rx="17" ry="17" fill="url(#gdark)" stroke="#45454a" stroke-width="1.4"/><ellipse cx="1018" cy="1527.4" rx="16" ry="16" fill="url(#gdark)" stroke="#45454a" stroke-width="1.4"/><ellipse cx="1070" cy="1529.4" rx="9" ry="9" fill-opacity="0.03" fill="#000" stroke="#55555a" stroke-width="1.3"/><ellipse cx="1169.4" cy="1571.5" rx="19" ry="19" fill="url(#gdark)" stroke="#45454a" stroke-width="1.4"/><ellipse cx="1202.4" cy="1576.5" rx="10" ry="10" fill-opacity="0.03" fill="#000" stroke="#55555a" stroke-width="1.3"/><ellipse cx="989" cy="1391" rx="10" ry="9" fill-opacity="0.03" fill="#000" stroke="#55555a" stroke-width="1.3"/><ellipse cx="1010" cy="1399" rx="12" ry="12" fill-opacity="0.03" fill="#000" stroke="#55555a" stroke-width="1.3"/><ellipse cx="1029" cy="1405" rx="10" ry="11" fill-opacity="0.03" fill="#000" stroke="#55555a" stroke-width="1.3"/><ellipse cx="1182.4" cy="1386" rx="11" ry="12" fill-opacity="0.03" fill="#000" stroke="#55555a" stroke-width="1.3"/><ellipse cx="1194.4" cy="1402" rx="10" ry="10" fill-opacity="0.03" fill="#000" stroke="#55555a" stroke-width="1.3"/><ellipse cx="1193.4" cy="1369" rx="15" ry="15" fill-opacity="0.03" fill="#000" stroke="#55555a" stroke-width="1.3"/><ellipse cx="1139.3" cy="1371" rx="11" ry="11" fill="#000" fill-opacity="0.16" stroke="#4a4a4e" stroke-width="1.2" stroke-opacity="0.6"/><ellipse cx="1229.5" cy="1375" rx="8" ry="8" fill-opacity="0.03" fill="#000" stroke="#55555a" stroke-width="1.3"/><ellipse cx="1252.5" cy="1386" rx="7" ry="7" fill-opacity="0.03" fill="#000" stroke="#55555a" stroke-width="1.3"/><ellipse cx="1214" cy="1395" rx="7" ry="7" fill="#000" fill-opacity="0.16" stroke="#4a4a4e" stroke-width="1.2" stroke-opacity="0.6"/><ellipse cx="1234" cy="1431" rx="12.4" ry="13" fill-opacity="0.03" fill="#000" stroke="#55555a" stroke-width="1.3"/><ellipse cx="1249.5" cy="1451" rx="12" ry="13" fill-opacity="0.03" fill="#000" stroke="#55555a" stroke-width="1.3"/><ellipse cx="1242.5" cy="1483" rx="6.4" ry="6.4" fill="#000" fill-opacity="0.16" stroke="#4a4a4e" stroke-width="1.2" stroke-opacity="0.6"/><ellipse cx="1136.3" cy="1501" rx="7" ry="7" fill="#000" fill-opacity="0.16" stroke="#4a4a4e" stroke-width="1.2" stroke-opacity="0.6"/><ellipse cx="1063.2" cy="1493.3" rx="9" ry="9" fill="#000" fill-opacity="0.16" stroke="#4a4a4e" stroke-width="1.2" stroke-opacity="0.6"/><ellipse cx="1034" cy="1498.4" rx="9.6" ry="9.6" fill-opacity="0.03" fill="#000" stroke="#55555a" stroke-width="1.3"/><ellipse cx="1024" cy="1431" rx="7" ry="7" fill-opacity="0.03" fill="#000" stroke="#55555a" stroke-width="1.3"/><ellipse cx="1090" cy="1455" rx="7" ry="7" fill-opacity="0.03" fill="#000" stroke="#55555a" stroke-width="1.3"/><ellipse cx="1107.3" cy="1379" rx="6.4" ry="8" fill-opacity="0.03" fill="#000" stroke="#55555a" stroke-width="1.3"/><ellipse cx="1151.3" cy="1533.4" rx="6" ry="6" fill-opacity="0.03" fill="#000" stroke="#55555a" stroke-width="1.3"/><ellipse cx="1216" cy="1542.4" rx="7" ry="7" fill-opacity="0.03" fill="#000" stroke="#55555a" stroke-width="1.3"/><ellipse cx="1228.5" cy="1506.4" rx="7" ry="7" fill-opacity="0.03" fill="#000" stroke="#55555a" stroke-width="1.3"/><ellipse cx="1185.4" cy="1447.3" rx="7" ry="7" fill-opacity="0.03" fill="#000" stroke="#55555a" stroke-width="1.3"/><ellipse cx="1175.4" cy="1429.2" rx="6" ry="6" fill="#000" fill-opacity="0.16" stroke="#4a4a4e" stroke-width="1.2" stroke-opacity="0.6"/><ellipse cx="1273.6" cy="1518.4" rx="12" ry="12" fill="#000" fill-opacity="0.16" stroke="#4a4a4e" stroke-width="1.2" stroke-opacity="0.6"/><ellipse cx="1274.6" cy="1406" rx="11" ry="11" fill-opacity="0.03" fill="#000" stroke="#55555a" stroke-width="1.3"/><ellipse cx="1224.5" cy="1595" rx="10" ry="10" fill-opacity="0.03" fill="#000" stroke="#55555a" stroke-width="1.3"/><ellipse cx="1264.5" cy="1588.5" rx="8" ry="8" fill="#000" fill-opacity="0.16" stroke="#4a4a4e" stroke-width="1.2" stroke-opacity="0.6"/><ellipse cx="1264.5" cy="1572.5" rx="6" ry="6" fill-opacity="0.03" fill="#000" stroke="#55555a" stroke-width="1.3"/><ellipse cx="1028" cy="1360" rx="11" ry="11" fill-opacity="0.03" fill="#000" stroke="#55555a" stroke-width="1.3"/><ellipse cx="1132.5" cy="1393" rx="4" ry="4" fill="#000" fill-opacity="0.13"/><ellipse cx="1028" cy="1382" rx="4.5" ry="4.5" fill="#000" fill-opacity="0.13"/><ellipse cx="974" cy="1440" rx="4" ry="4" fill="#000" fill-opacity="0.13"/><ellipse cx="1002" cy="1473" rx="5" ry="5" fill="#000" fill-opacity="0.16" stroke="#4a4a4e" stroke-width="1.2" stroke-opacity="0.6"/><ellipse cx="1081" cy="1521.4" rx="6" ry="6" fill="#000" fill-opacity="0.13"/><ellipse cx="1124.3" cy="1563.5" rx="4.5" ry="4.5" fill="#000" fill-opacity="0.13"/><ellipse cx="1247" cy="1420" rx="4" ry="4" fill="#000" fill-opacity="0.13"/><ellipse cx="1056" cy="1425" rx="3" ry="3" fill="#000" fill-opacity="0.13"/></g><line x1="1232" y1="1580.5" x2="1254" y2="1580.5" stroke="#231f20" stroke-width="3.2" /><rect x="1209" y="1414.6" width="56" height="55.7" fill="none" stroke="#231f20" stroke-width="2" stroke-dasharray="6 4"/><path d="M1265,1414.6L1290.5,1412.2M1265,1470.3L1290.5,1592.5" stroke="#231f20" stroke-width="2" stroke-dasharray="6 6" fill="none"/><clipPath id="cd1"><rect x="1290" y="1412.2" width="181" height="180"/></clipPath><rect x="1290" y="1412.2" width="181" height="180" fill="#aeaeae"/><g clip-path="url(#cd1)"><ellipse cx="1384.4" cy="1471.5" rx="36.2" ry="39.4" fill="#000" fill-opacity="0.02" stroke="#505055" stroke-width="2.2" stroke-opacity="0.85"/><ellipse cx="1384.4" cy="1471.5" rx="33.7" ry="36.9" fill="none" stroke="#000" stroke-opacity="0.08" stroke-width="3"/><ellipse cx="1427.8" cy="1530.5" rx="34.4" ry="38.9" fill="#000" fill-opacity="0.02" stroke="#505055" stroke-width="2.2" stroke-opacity="0.85" transform="rotate(20 1427.8 1530.5)"/><ellipse cx="1427.8" cy="1530.5" rx="31.9" ry="36.4" fill="none" stroke="#000" stroke-opacity="0.08" stroke-width="3" transform="rotate(20 1427.8 1530.5)"/><ellipse cx="1442.6" cy="1465.6" rx="18" ry="24" fill="#000" fill-opacity="0.05" transform="rotate(30 1442.6 1465.6)"/><ellipse cx="1327" cy="1502" rx="7" ry="7" fill="#000" fill-opacity="0.13"/></g><rect x="1290" y="1412.2" width="181" height="180" fill="none" stroke="#231f20" stroke-width="1.9" stroke-dasharray="6 6"/><line x1="1393" y1="1582.8" x2="1455" y2="1582.8" stroke="#231f20" stroke-width="3.2" /><clipPath id="cd2"><rect x="1475.3" y="1362" width="181" height="180.2"/></clipPath><rect x="1475.3" y="1362" width="181" height="180.2" fill="#c1c1c1"/><g clip-path="url(#cd2)"><ellipse cx="1540.5" cy="1419.7" rx="49.1" ry="51.9" fill="#000" fill-opacity="0.02" stroke="#505055" stroke-width="2.2" stroke-opacity="0.85"/><ellipse cx="1540.5" cy="1419.7" rx="46.6" ry="49.4" fill="none" stroke="#000" stroke-opacity="0.08" stroke-width="3"/><ellipse cx="1593.5" cy="1467.5" rx="51.6" ry="51" fill="#000" fill-opacity="0.02" stroke="#505055" stroke-width="2.2" stroke-opacity="0.85"/><ellipse cx="1593.5" cy="1467.5" rx="49.1" ry="48.5" fill="none" stroke="#000" stroke-opacity="0.08" stroke-width="3"/><ellipse cx="1571" cy="1540" rx="20" ry="12" fill-opacity="0.03" fill="#000" stroke="#55555a" stroke-width="1.3"/><ellipse cx="1481" cy="1430" rx="8" ry="8" fill="#000" fill-opacity="0.13"/><ellipse cx="1630" cy="1395" rx="22" ry="16" fill="#000" fill-opacity="0.05"/></g><rect x="1475.3" y="1362" width="181" height="180.2" fill="none" stroke="#231f20" stroke-width="1.9" stroke-dasharray="6 6"/><line x1="1582.2" y1="1528.8" x2="1643.5" y2="1528.8" stroke="#231f20" stroke-width="3.2" /><path d="M1389.6,1396 C1402,1330 1440,1285 1487,1285 C1522,1285 1548,1305 1562,1335" fill="none" stroke="#000" stroke-width="3.3"/><polygon points="1568.7,1359.6 1549.9,1337.3 1561.6,1337.7 1570.8,1330.5" fill="#000"/><clipPath id="cd3"><rect x="1660" y="1359.4" width="315" height="236.5"/></clipPath><rect x="1660" y="1359.4" width="315" height="236.5" fill="#bfbfbf"/><g clip-path="url(#cd3)"><ellipse cx="1682.6" cy="1415.9" rx="13.4" ry="13.4" fill-opacity="0.03" fill="#000" stroke="#55555a" stroke-width="1.3"/><ellipse cx="1713.2" cy="1421.6" rx="19" ry="19" fill-opacity="0.03" fill="#000" stroke="#55555a" stroke-width="1.3"/><ellipse cx="1722.8" cy="1376.6" rx="17" ry="17" fill-opacity="0.03" fill="#000" stroke="#55555a" stroke-width="1.3"/><ellipse cx="1690.2" cy="1369" rx="15" ry="15" fill-opacity="0.03" fill="#000" stroke="#55555a" stroke-width="1.3"/><ellipse cx="1765" cy="1368" rx="10.5" ry="10.5" fill-opacity="0.03" fill="#000" stroke="#55555a" stroke-width="1.3"/><ellipse cx="1812.8" cy="1368" rx="11.5" ry="11.5" fill-opacity="0.03" fill="#000" stroke="#55555a" stroke-width="1.3"/><ellipse cx="1836.7" cy="1390" rx="14.4" ry="14.4" fill-opacity="0.03" fill="#000" stroke="#55555a" stroke-width="1.3"/><ellipse cx="1862.6" cy="1378.5" rx="13.4" ry="13.4" fill-opacity="0.03" fill="#000" stroke="#55555a" stroke-width="1.3"/><ellipse cx="1891.3" cy="1386" rx="19" ry="21" fill-opacity="0.03" fill="#000" stroke="#55555a" stroke-width="1.3"/><ellipse cx="1871.2" cy="1415.9" rx="17" ry="17" fill-opacity="0.03" fill="#000" stroke="#55555a" stroke-width="1.3"/><ellipse cx="1888.4" cy="1428.3" rx="10.5" ry="10.5" fill-opacity="0.03" fill="#000" stroke="#55555a" stroke-width="1.3"/><ellipse cx="1907.6" cy="1413" rx="8.6" ry="8.6" fill="#000" fill-opacity="0.16" stroke="#4a4a4e" stroke-width="1.2" stroke-opacity="0.6"/><ellipse cx="1929.6" cy="1407.2" rx="10.5" ry="10.5" fill-opacity="0.03" fill="#000" stroke="#55555a" stroke-width="1.3"/><ellipse cx="1950.7" cy="1406.3" rx="10.5" ry="10.5" fill-opacity="0.03" fill="#000" stroke="#55555a" stroke-width="1.3"/><ellipse cx="1925.8" cy="1382.4" rx="7.7" ry="7.7" fill-opacity="0.03" fill="#000" stroke="#55555a" stroke-width="1.3"/><ellipse cx="1821.4" cy="1402.5" rx="8.6" ry="8.6" fill-opacity="0.03" fill="#000" stroke="#55555a" stroke-width="1.3"/><ellipse cx="1722.8" cy="1448.4" rx="7.3" ry="7.3" fill-opacity="0.03" fill="#000" stroke="#55555a" stroke-width="1.3"/><ellipse cx="1729.5" cy="1484.8" rx="30" ry="31" fill-opacity="0.03" fill="#000" stroke="#55555a" stroke-width="1.3"/><ellipse cx="1713.2" cy="1495.3" rx="25" ry="25" fill-opacity="0.03" fill="#000" stroke="#55555a" stroke-width="1.3"/><ellipse cx="1721.8" cy="1515.5" rx="11.5" ry="11.5" fill-opacity="0.03" fill="#000" stroke="#55555a" stroke-width="1.3"/><ellipse cx="1793.6" cy="1519.3" rx="20" ry="18" fill-opacity="0.03" fill="#000" stroke="#55555a" stroke-width="1.3"/><ellipse cx="1784" cy="1487.7" rx="8.6" ry="8.6" fill-opacity="0.03" fill="#000" stroke="#55555a" stroke-width="1.3"/><ellipse cx="1761" cy="1523" rx="8.6" ry="8.6" fill="#000" fill-opacity="0.16" stroke="#4a4a4e" stroke-width="1.2" stroke-opacity="0.6"/><ellipse cx="1835.8" cy="1520.2" rx="7.7" ry="7.7" fill="#000" fill-opacity="0.16" stroke="#4a4a4e" stroke-width="1.2" stroke-opacity="0.6"/><ellipse cx="1715" cy="1552.8" rx="21" ry="21" fill="url(#gdark)" stroke="#45454a" stroke-width="1.4"/><ellipse cx="1747.7" cy="1558.5" rx="19" ry="19" fill="url(#gdark)" stroke="#45454a" stroke-width="1.4"/><ellipse cx="1772.6" cy="1554.7" rx="15" ry="15" fill-opacity="0.03" fill="#000" stroke="#55555a" stroke-width="1.3"/><ellipse cx="1877" cy="1495.3" rx="9.6" ry="9.6" fill-opacity="0.03" fill="#000" stroke="#55555a" stroke-width="1.3"/><ellipse cx="1872" cy="1450.3" rx="6.7" ry="8" fill="#000" fill-opacity="0.13"/><ellipse cx="1939.2" cy="1506.8" rx="7.7" ry="7.7" fill="#000" fill-opacity="0.16" stroke="#4a4a4e" stroke-width="1.2" stroke-opacity="0.6"/><ellipse cx="1925.8" cy="1538.4" rx="7.7" ry="7.7" fill-opacity="0.03" fill="#000" stroke="#55555a" stroke-width="1.3"/><ellipse cx="1946.8" cy="1542.3" rx="6.7" ry="6.7" fill-opacity="0.03" fill="#000" stroke="#55555a" stroke-width="1.3"/><ellipse cx="1970" cy="1537.5" rx="13.4" ry="13.4" fill="url(#gdark)" stroke="#45454a" stroke-width="1.4"/><ellipse cx="1849.2" cy="1557.6" rx="8.6" ry="8.6" fill-opacity="0.03" fill="#000" stroke="#55555a" stroke-width="1.3"/><ellipse cx="1915.2" cy="1571" rx="9.6" ry="9.6" fill-opacity="0.03" fill="#000" stroke="#55555a" stroke-width="1.3"/><ellipse cx="1864.5" cy="1594" rx="15" ry="15" fill="url(#gdark)" stroke="#45454a" stroke-width="1.4"/><ellipse cx="1899" cy="1589.2" rx="9.6" ry="9.6" fill-opacity="0.03" fill="#000" stroke="#55555a" stroke-width="1.3"/><ellipse cx="1966" cy="1428.3" rx="11.5" ry="11.5" fill="#000" fill-opacity="0.16" stroke="#4a4a4e" stroke-width="1.2" stroke-opacity="0.6"/><ellipse cx="1926.7" cy="1461.8" rx="14.4" ry="15.5" fill-opacity="0.03" fill="#000" stroke="#55555a" stroke-width="1.3"/><ellipse cx="1947.8" cy="1479" rx="17" ry="18" fill-opacity="0.03" fill="#000" stroke="#55555a" stroke-width="1.3"/><ellipse cx="1671" cy="1462.8" rx="5.4" ry="5.4" fill="#000" fill-opacity="0.13"/><ellipse cx="1730" cy="1402" rx="4" ry="4" fill="#000" fill-opacity="0.13"/><ellipse cx="1752" cy="1447" rx="3" ry="3" fill="#000" fill-opacity="0.13"/><ellipse cx="1817" cy="1595" rx="5" ry="5" fill="#000" fill-opacity="0.13"/></g><line x1="1927.7" y1="1581" x2="1949.7" y2="1581" stroke="#231f20" stroke-width="3.2" /><rect x="1902.4" y="1436.9" width="67.4" height="67.1" fill="none" stroke="#231f20" stroke-width="2.2" stroke-dasharray="7 4.5"/><path d="M1656.4,1362.4L1902.4,1436.9M1656.4,1541L1902.4,1504" stroke="#231f20" stroke-width="2.2" stroke-dasharray="7 5" fill="none"/><rect x="971" y="1611.2" width="316" height="236.2" fill="#000"/><rect x="1660" y="1611.2" width="315" height="236.2" fill="#000"/><g fill="#4565b0"><circle cx="988" cy="1643" r="10"/><circle cx="1009" cy="1651" r="12"/><circle cx="1029" cy="1657" r="11.4"/><circle cx="1018" cy="1648" r="9"/><circle cx="1024" cy="1682" r="7"/><circle cx="1056" cy="1679.7" r="2"/><circle cx="1073" cy="1703" r="2.2"/></g><g fill="#6abd45"><circle cx="1028.7" cy="1634" r="4.4"/><circle cx="1124.7" cy="1815.8" r="4.6"/><circle cx="1230" cy="1758" r="8"/><circle cx="1226" cy="1756" r="5"/></g><g fill="#ec2a8b"><circle cx="1132.7" cy="1644.5" r="4.4"/><circle cx="1151.7" cy="1784" r="6.6"/></g><g fill="#e2e021"><circle cx="1026" cy="1715" r="24"/><circle cx="1030" cy="1712" r="22"/><circle cx="1004" cy="1725" r="7"/><circle cx="1147" cy="1796" r="2"/></g><g fill="#7d54a5"><circle cx="1063" cy="1745" r="9"/><circle cx="986" cy="1778" r="2.4"/></g><g fill="#ee3224"><circle cx="1094" cy="1745" r="15"/><circle cx="1175.4" cy="1680" r="6"/><circle cx="1246.5" cy="1757" r="5.4"/><circle cx="1213.7" cy="1692.8" r="2.4"/></g><g fill="#4cc9f0"><circle cx="1018" cy="1779" r="18"/><circle cx="1036" cy="1784" r="14"/><circle cx="1054" cy="1785" r="18"/><circle cx="1072" cy="1774" r="12"/><circle cx="1082" cy="1774" r="7"/><circle cx="1010" cy="1775" r="10"/></g><g fill="#68c8dc"><circle cx="1229" cy="1627.6" r="8.4"/></g><g fill="#6cc49b"><circle cx="1234" cy="1682" r="13.5"/><circle cx="1249.5" cy="1703" r="12.5"/><circle cx="1240.5" cy="1792" r="3.6"/></g><g fill="#4a4ea0"><circle cx="1185.8" cy="1699" r="7.4"/></g><g fill="#4b7fd0"><circle cx="1212.5" cy="1731" r="3.6"/></g><g fill="#9ccb3b"><circle cx="1134.7" cy="1734" r="5"/></g><g fill="#c9519f"><circle cx="1136.7" cy="1752" r="7"/><circle cx="1242.5" cy="1735.6" r="7"/></g><g fill="#bfd630"><circle cx="1216" cy="1793.5" r="7"/></g><g fill="#f7941d"><circle cx="1222" cy="1769" r="1.6"/></g><g fill="#c5d92f"><circle cx="1681.6" cy="1667" r="13.4"/><circle cx="1714" cy="1672.8" r="21"/><circle cx="1729.5" cy="1653.6" r="5.7"/><circle cx="1722.8" cy="1699.6" r="7.7"/><circle cx="1729.5" cy="1732" r="31"/><circle cx="1710" cy="1745" r="22"/><circle cx="1748" cy="1742" r="20"/><circle cx="1735" cy="1815" r="27"/><circle cx="1700" cy="1812" r="14"/><circle cx="1701.7" cy="1749.4" r="13.4"/><circle cx="1723.7" cy="1772.4" r="14"/><circle cx="1719" cy="1805" r="24"/><circle cx="1757.2" cy="1810.7" r="24"/><circle cx="1776.4" cy="1803" r="13.4"/><circle cx="1740" cy="1800" r="20"/><circle cx="1712" cy="1725" r="14"/></g><g fill="#4565b0"><circle cx="1671" cy="1714.3" r="5.7"/><circle cx="1826.2" cy="1668.4" r="4.8"/><circle cx="1746.3" cy="1703.4" r="2.3"/><circle cx="1685.4" cy="1800" r="2.3"/></g><g fill="#5f55a4"><circle cx="1784.4" cy="1739.2" r="8.8"/></g><g fill="#c54f9d"><circle cx="1794" cy="1770.5" r="20"/></g><g fill="#5fb860"><circle cx="1760.7" cy="1775.2" r="9.6"/></g><g fill="#6cc39a"><circle cx="1833" cy="1763.7" r="6.3"/><circle cx="1835.8" cy="1773.3" r="7.7"/></g><g fill="#f7901e"><circle cx="1873" cy="1702" r="7"/></g><g fill="#ffdf00"><circle cx="1929.6" cy="1713" r="17.2"/><circle cx="1947.8" cy="1730.2" r="18.2"/><circle cx="1915" cy="1718" r="8"/></g><g fill="#67bb46"><circle cx="1925.4" cy="1634" r="8"/><circle cx="1908" cy="1765" r="4.8"/><circle cx="1938.2" cy="1818.7" r="3.4"/></g><g fill="#6ccadb"><circle cx="1939.6" cy="1758" r="7.7"/></g><g fill="#4b9bd5"><circle cx="1934" cy="1775.8" r="5"/></g><g fill="#ed1c24"><circle cx="1967" cy="1638.3" r="4.2"/><circle cx="1946.5" cy="1794.4" r="6.3"/><circle cx="1843.4" cy="1827" r="2.3"/></g><g fill="#ea1e8c"><circle cx="1915.2" cy="1822.5" r="9.8"/><circle cx="1668.8" cy="1781.6" r="2.3"/></g><g fill="#85c441"><circle cx="1849.6" cy="1808.8" r="8.8"/></g><ellipse cx="1034" cy="1749" rx="10" ry="11" fill="#e2e021"/><path d="M1030,1742 l6,3 -4,3 5,3 -4,4 4,3" stroke="#000" stroke-width="3" fill="none"/><line x1="1326" y1="1727.4" x2="1605" y2="1727.4" stroke="#231f20" stroke-width="3" /><polygon points="1631,1727.4 1603,1738.9 1607,1727.4 1603,1715.9" fill="#231f20"/><text x="853.4" y="1951.5" font-size="51" text-anchor="start" font-weight="bold" fill="#000" >E)</text><rect x="1099.2" y="2108.4" width="63" height="276.8" fill="#808080" stroke="#000" stroke-width="5.8" stroke-linejoin="round"/><rect x="1193.5" y="2226" width="63" height="159.2" fill="#808080" stroke="#000" stroke-width="5.8" stroke-linejoin="round"/><rect x="1287.5" y="2032.4" width="63" height="352.8" fill="#808080" stroke="#000" stroke-width="5.8" stroke-linejoin="round"/><path d="M1130.7,2020V2196.8M1115.3,2020h30.8M1115.3,2196.8h30.8" stroke="#000" stroke-width="2.8" fill="none"/><path d="M1225,2196.8V2255.2M1209.6,2196.8h30.8M1209.6,2255.2h30.8" stroke="#000" stroke-width="2.8" fill="none"/><path d="M1319,2000.3V2065.3M1303.6,2000.3h30.8M1303.6,2065.3h30.8" stroke="#000" stroke-width="2.8" fill="none"/><circle cx="1130.7" cy="1971.8" r="8.6" fill="#fff" stroke="#000" stroke-width="4.2"/><circle cx="1130.7" cy="2078.5" r="8.6" fill="#fff" stroke="#000" stroke-width="4.2"/><circle cx="1130.7" cy="2274.2" r="8.6" fill="#fff" stroke="#000" stroke-width="4.2"/><circle cx="1225" cy="2181.4" r="8.6" fill="#fff" stroke="#000" stroke-width="4.2"/><circle cx="1225" cy="2215" r="8.6" fill="#fff" stroke="#000" stroke-width="4.2"/><circle cx="1225" cy="2280" r="8.6" fill="#fff" stroke="#000" stroke-width="4.2"/><circle cx="1319" cy="1971.8" r="8.6" fill="#fff" stroke="#000" stroke-width="4.2"/><circle cx="1319" cy="2041.9" r="8.6" fill="#fff" stroke="#000" stroke-width="4.2"/><circle cx="1319" cy="2082.5" r="8.6" fill="#fff" stroke="#000" stroke-width="4.2"/><path d="M1067.8,1945.4V2385.2H1384.8" fill="none" stroke="#000" stroke-width="4"/><line x1="1050" y1="2385.2" x2="1067.8" y2="2385.2" stroke="#000" stroke-width="4" /><text x="1044.5" y="2396.5" font-size="32" text-anchor="end" fill="#000" >0</text><line x1="1050" y1="2239.1" x2="1067.8" y2="2239.1" stroke="#000" stroke-width="4" /><text x="1044.5" y="2250.4" font-size="32" text-anchor="end" fill="#000" >200</text><line x1="1050" y1="2093.1" x2="1067.8" y2="2093.1" stroke="#000" stroke-width="4" /><text x="1044.5" y="2104.4" font-size="32" text-anchor="end" fill="#000" >400</text><line x1="1050" y1="1947" x2="1067.8" y2="1947" stroke="#000" stroke-width="4" /><text x="1044.5" y="1958.3" font-size="32" text-anchor="end" fill="#000" >600</text><line x1="1130.7" y1="2385.2" x2="1130.7" y2="2404.2" stroke="#000" stroke-width="4" /><line x1="1225" y1="2385.2" x2="1225" y2="2404.2" stroke="#000" stroke-width="4" /><line x1="1319" y1="2385.2" x2="1319" y2="2404.2" stroke="#000" stroke-width="4" /><text transform="translate(957.3,2168.2) rotate(-90)" font-size="47.7" text-anchor="middle" >Spheroids Analyzed</text><text transform="translate(1139.9,2430.6) rotate(-46.5)" font-size="33" text-anchor="end">non-CF #1</text><text transform="translate(1236.7,2430.6) rotate(-46.5)" font-size="33" text-anchor="end">non-CF #2</text><text transform="translate(1330.8,2430.6) rotate(-46.5)" font-size="33" text-anchor="end">non-CF #3</text><text x="1438.8" y="1951.4" font-size="51" text-anchor="start" font-weight="bold" fill="#000" >F)</text><rect x="1680.7" y="2089.2" width="61" height="296.4" fill="#808080" stroke="#000" stroke-width="5.8" stroke-linejoin="round"/><rect x="1773.3" y="2102.8" width="61" height="282.8" fill="#808080" stroke="#000" stroke-width="5.8" stroke-linejoin="round"/><rect x="1865.2" y="2133.5" width="61" height="252.1" fill="#808080" stroke="#000" stroke-width="5.8" stroke-linejoin="round"/><path d="M1711.2,2062.3V2115.8M1696.7,2062.3h29M1696.7,2115.8h29" stroke="#000" stroke-width="2.8" fill="none"/><path d="M1803.8,2092.1V2112.8M1789.3,2092.1h29M1789.3,2112.8h29" stroke="#000" stroke-width="2.8" fill="none"/><path d="M1895.7,2096.2V2173M1881.2,2096.2h29M1881.2,2173h29" stroke="#000" stroke-width="2.8" fill="none"/><circle cx="1711.3" cy="2033.1" r="5.2" fill="#fff" stroke="#000" stroke-width="4.2"/><circle cx="1721.6" cy="2106.9" r="5.2" fill="#fff" stroke="#000" stroke-width="4.2"/><circle cx="1702.3" cy="2122" r="5.2" fill="#fff" stroke="#000" stroke-width="4.2"/><circle cx="1794.8" cy="2090.3" r="5.2" fill="#fff" stroke="#000" stroke-width="4.2"/><circle cx="1813.8" cy="2095.8" r="5.2" fill="#fff" stroke="#000" stroke-width="4.2"/><circle cx="1803.5" cy="2123.1" r="5.2" fill="#fff" stroke="#000" stroke-width="4.2"/><circle cx="1895.7" cy="2060.8" r="5.2" fill="#fff" stroke="#000" stroke-width="4.2"/><circle cx="1895.7" cy="2147.5" r="5.2" fill="#fff" stroke="#000" stroke-width="4.2"/><circle cx="1895.7" cy="2187" r="5.2" fill="#fff" stroke="#000" stroke-width="4.2"/><path d="M1649.3,1941.1V2385.6H1959.9" fill="none" stroke="#000" stroke-width="4"/><line x1="1638" y1="2311.7" x2="1649.3" y2="2311.7" stroke="#000" stroke-width="4" /><text x="1630.7" y="2323" font-size="32" text-anchor="end" fill="#000" >100</text><line x1="1638" y1="2127.2" x2="1649.3" y2="2127.2" stroke="#000" stroke-width="4" /><text x="1630.7" y="2138.5" font-size="32" text-anchor="end" fill="#000" >150</text><line x1="1638" y1="1942.7" x2="1649.3" y2="1942.7" stroke="#000" stroke-width="4" /><text x="1630.7" y="1954" font-size="32" text-anchor="end" fill="#000" >200</text><line x1="1711.2" y1="2385.6" x2="1711.2" y2="2399.6" stroke="#000" stroke-width="4" /><line x1="1803.8" y1="2385.6" x2="1803.8" y2="2399.6" stroke="#000" stroke-width="4" /><line x1="1895.7" y1="2385.6" x2="1895.7" y2="2399.6" stroke="#000" stroke-width="4" /><line x1="1691.1" y1="2010.2" x2="1909.5" y2="2010.2" stroke="#000" stroke-width="2.8" /><text x="1798.5" y="1997" font-size="39" text-anchor="middle" fill="#000" >ns</text><text transform="translate(1511.9,2129.3) rotate(-90)" font-size="46.3" text-anchor="middle" >Normalized</text><text transform="translate(1566.5,2130.4) rotate(-90)" font-size="46.3" text-anchor="middle" >CSA (%)</text><text transform="translate(1736.6,2427.9) rotate(-46.5)" font-size="33" text-anchor="end">non-CF #1</text><text transform="translate(1828.8,2427.9) rotate(-46.5)" font-size="33" text-anchor="end">non-CF #2</text><text transform="translate(1926,2427.9) rotate(-46.5)" font-size="33" text-anchor="end">non-CF #3</text>
</svg>
</body></html>
